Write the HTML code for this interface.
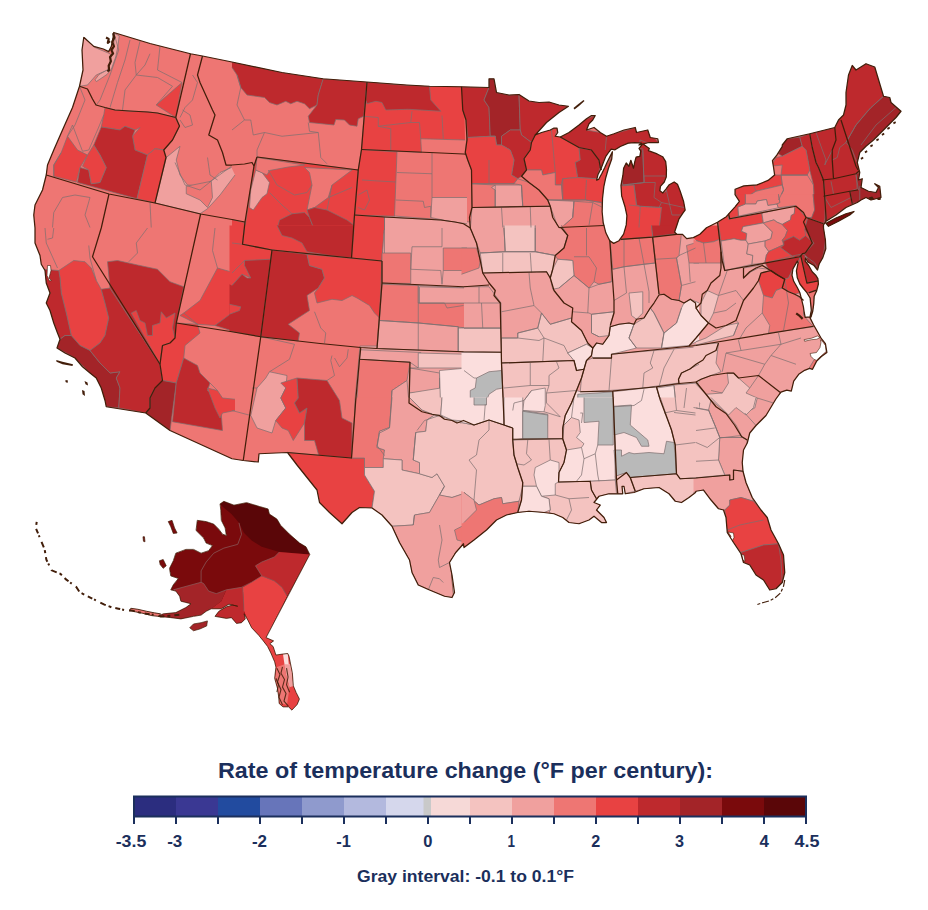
<!DOCTYPE html>
<html><head><meta charset="utf-8"><title>Rate of temperature change</title>
<style>html,body{margin:0;padding:0;background:#fff}body{width:928px;height:910px;overflow:hidden;position:relative;font-family:"Liberation Sans",sans-serif}svg{position:absolute;left:0;top:0}text{font-family:"Liberation Sans",sans-serif;font-weight:bold;fill:#1b2f5c}</style></head><body>
<svg width="928" height="910" viewBox="0 0 928 910">
<rect width="928" height="910" fill="#fff"/>
<defs><clipPath id="us"><path d="M113.75 32.5 L150 43.5 L190.5 53.75 L202.5 56 L232 62 L282 72.5 L323 78.75 L367 82 L407 85 L429.5 86.25 L461.5 86.75 L489 87.5 L489 78.75 L494 78.75 L496.5 92.5 L509 95 L519 94.5 L529 101 L539 102.5 L549 102 L559 105 L568.5 106.25 L559 112.5 L546.5 122.5 L535.25 135 L541.5 132.5 L550.25 130 L554 128 L557 128 L557.75 132.5 L555.25 136.25 L560.25 137 L569 132.5 L579 125 L586.5 118.75 L591.5 115.5 L595.25 115.5 L592.75 120 L589 123.75 L586.5 130 L594 127.5 L600.25 132.5 L606.5 136.25 L614 133.75 L624 130 L635.25 127.5 L636.5 132.5 L647.75 130 L650.25 137.5 L657.75 138.75 L658.5 142.5 L649 142.5 L644 143.75 L639 145 L641.41 143.18 L634.82 142.52 L628.23 143.18 L620.32 146.48 L615.05 149.77 L611.09 149.11 L609.11 151.75 L605.82 156.36 L603.18 162.96 L601.2 168.23 L597.91 174.82 L596.59 180.09 L598.57 179.43 L601.86 173.5 L604.76 167.57 L607.14 162.3 L609.77 157.02 L612.41 151.75 L611.75 159 L608.46 168.23 L605.82 177.46 L603.84 186.68 L602.52 198.55 L602.13 211.73 L603.18 222.28 L605.82 232.82 L609.77 240.73 L613.73 243.37 L619 240.73 L623.61 234.14 L626.25 224.91 L626.91 215.68 L624.93 206.46 L621.64 195.91 L620.98 185.37 L622.96 174.82 L623.61 168.23 L626.25 162.96 L628.89 166.25 L630.86 160.32 L633.5 168.23 L634.82 161.64 L636.14 157.02 L639.83 156.36 L640.75 151.09 L639.04 148.46 L642.73 143.84 L649.32 148.46 L648.35 150.66 L657.14 153.96 L662.64 156.7 L665.71 161.65 L666.48 169.34 L666.26 177.03 L664.29 181.98 L660.44 186.37 L659.89 190.77 L662.86 192.97 L665.93 189.12 L669.23 184.73 L674.18 181.98 L677.47 184.18 L680.22 191.32 L683.52 201.21 L685.16 210 L683.41 212.31 L679.01 218.9 L676.81 225.49 L674.62 232.09 L676.81 234.29 L682.31 234.29 L686.7 238.68 L693.3 237.58 L699.89 234.29 L706.48 227.69 L717.47 222.2 L726.26 216.7 L735.05 206.81 L739.45 201.32 L735.05 194.73 L735.05 189.23 L743.85 185.93 L757.03 184.84 L768.02 180.44 L774.62 174.95 L773.52 167.25 L772.42 160.66 L776.81 155.16 L782.31 146.37 L782.25 145 L787.25 138.75 L809.75 133.75 L834.75 127.5 L838.5 120 L843.5 115 L846 105 L846 92.5 L848.5 75 L852.25 65.5 L856 70 L866 63.75 L874.75 67 L883.5 96.25 L889.75 97.5 L891 102.5 L901 111.25 L896 117.5 L888.5 125 L881 132.5 L873.5 140 L866 146.25 L859.75 152.5 L857.25 162.5 L859.75 172.5 L858.5 180 L862.25 178.75 L861 187.5 L868.5 191.25 L876 192.5 L878.5 187.5 L874.75 183.75 L879.75 186.25 L881 197.5 L871 200 L866 197.5 L861 200 L857.25 202.5 L846 207.5 L836 215 L826 221.25 L823.5 225 L823.5 228 L825.4 240 L825.8 248.8 L822.8 257.6 L819.3 263.7 L817.5 270 L814 265.5 L807.8 262 L805.5 258 L805.2 261.1 L808.7 265.5 L812.2 271.7 L815.7 275.2 L817.9 278.7 L818.4 284 L816.6 291 L814.2 296.3 L813.8 303.3 L812.8 311 L811 317 L810 317 L811.3 310.3 L810.1 298 L806.9 292.7 L803.4 288.5 L799.9 284 L797.3 277.8 L796.4 270.8 L798.1 262.9 L797.3 261.1 L792.9 269 L792 275.2 L793.7 281.3 L797.3 287.5 L799.9 292.8 L801.7 299.8 L803.4 306.8 L804.3 313 L805.2 317.4 L809.6 316.9 L813.5 324.8 L817.5 331.8 L821.4 338.7 L825.4 343.6 L826.9 352.5 L821.4 356.5 L816.5 361.4 L812.5 369.3 L809.6 368.4 L804.6 370.3 L798.7 374.3 L793.7 381.2 L791.3 391.1 L786.8 390.1 L780.9 392.1 L775.9 399 L773.5 403 L766 415.5 L756 425.5 L749.75 433 L747.25 443 L743.5 450 L742.25 462.5 L743 471.25 L746 482.5 L752.25 497.5 L761 510 L767.25 517.5 L771 530 L778.5 543.75 L783.5 555 L784.75 572.5 L782.25 582.5 L776 588.75 L769.75 590 L763.5 580 L756 575 L749.75 565 L743.5 562.5 L741 553.75 L733.5 542.5 L727.25 532.5 L726 517.5 L723.5 510 L718.5 508.75 L711 500 L703.5 490 L696 491.25 L695.5 492.5 L689 497.5 L681.5 502.5 L675.25 501.25 L669 493.75 L659 487.5 L644 488.75 L634 492.5 L625.25 493.75 L624 486.25 L622 486.25 L622.75 493.75 L609 493.75 L599 496.25 L594 502.5 L600.25 505 L596.5 510 L604 517.5 L606.5 522.5 L601.5 522.5 L594 516.25 L589 520 L579 523.75 L569 522.5 L562.75 517.5 L554 513.75 L544 512.5 L529 511.25 L517.75 512.5 L506.5 515 L496.5 520 L486.5 530 L474 540 L464 547.5 L463.5 543.75 L455.75 552.5 L449.5 562.5 L452 575 L454.5 592.5 L452 597.5 L444.5 596.25 L429.5 590 L418.25 585 L412 572.5 L409.5 560 L399.5 542.5 L392 526.25 L382 515 L372 508 L359.5 507.5 L352 512.5 L342 523.75 L329.5 512.5 L319.5 502.5 L317 490 L307 477.5 L297 465 L287.5 452.5 L259 453.75 L258.25 462 L243.25 460.5 L232 458.75 L170 430.5 L145.75 413 L106.25 406.75 L105 400.5 L101.25 388 L96.25 378 L90 373 L82.5 366.75 L75 358 L65 353 L57 348 L60 339.25 L57.5 333 L53.75 323 L50 310.5 L46.25 303 L50 293 L46.25 283 L45 270.5 L41.25 264.25 L40 255.5 L35 243 L35 228 L33.75 215 L35 205 L42.5 190 L46.25 175 L47.5 165 L53.75 150 L62.5 130 L72.5 107.5 L79.5 86.25 L83 70 L82 50 L83.75 37.5 L84.07 37.58 L93.74 46.37 L103.41 49.01 L108.68 51.65 L111.32 46.37 L113.08 37.58 L113.69 33.01Z M826 223.25 L836 218 L846 213.75 L854 211.5 L849.75 215 L838.5 221.25 L828.5 226.25Z"/></clipPath></defs>
<g clip-path="url(#us)">
<rect x="0" y="0" width="928" height="720" fill="#EE7673"/>
<polygon fill="#F0A09E" points="382,215 470,222 560,226 605,224 610,240 680,232 720,220 730,212 800,204 832,225 832,330 790,400 760,480 700,500 600,530 450,600 400,560 355,460 355,400 360,346 377,346 382,283"/>
<path d="M382 215 L470 222 L560 226 L605 224 L610 240 L680 232 L720 220 L730 212 L800 204 L832 225 L832 330 L790 400 L760 480 L700 500 L600 530 L450 600 L400 560 L355 460 L355 400 L360 346 L377 346 L382 283 L382 215" fill="none" stroke="#7d7070" stroke-width="0.9" stroke-opacity="0.8" stroke-linejoin="round"/>
<polygon fill="#F0A09E" points="83.75,37.5 95,47.5 110,53.75 112.5,60 107.5,70 96.25,75 87.5,85 79.5,86.25 75,86.25 80,70 79.5,50"/>
<path d="M83.75 37.5 L95 47.5 L110 53.75 L112.5 60 L107.5 70 L96.25 75 L87.5 85 L79.5 86.25 L75 86.25 L80 70 L79.5 50 L83.75 37.5" fill="none" stroke="#7d7070" stroke-width="0.9" stroke-opacity="0.8" stroke-linejoin="round"/>
<polygon fill="#F0A09E" points="113.69,33.01 119.23,35.82 117.91,46.37 115.71,56.92 111.32,69.23 106.92,74.51 96.37,81.54 95.05,79.78 99.01,74.51 108.68,69.23 111.32,55.16 113.96,46.37"/>
<path d="M113.69 33.01 L119.23 35.82 L117.91 46.37 L115.71 56.92 L111.32 69.23 L106.92 74.51 L96.37 81.54 L95.05 79.78 L99.01 74.51 L108.68 69.23 L111.32 55.16 L113.96 46.37 L113.69 33.01" fill="none" stroke="#7d7070" stroke-width="0.9" stroke-opacity="0.8" stroke-linejoin="round"/>
<polygon fill="#E84242" points="182,82.5 175.75,117.5 156.25,105"/>
<path d="M182 82.5 L175.75 117.5 L156.25 105 L182 82.5" fill="none" stroke="#7d7070" stroke-width="0.9" stroke-opacity="0.8" stroke-linejoin="round"/>
<polygon fill="#E84242" points="105,107.5 115,110 130,111.25 147.5,111.75 157.5,113 175,117.5 179.5,126.25 172.5,140 163.75,150 155,148.75 147.5,155 135,150 132.5,136.25 140,127.5 135,130 125,126.25 120,130 101.25,127 103.75,115"/>
<path d="M105 107.5 L115 110 L130 111.25 L147.5 111.75 L157.5 113 L175 117.5 L179.5 126.25 L172.5 140 L163.75 150 L155 148.75 L147.5 155 L135 150 L132.5 136.25 L140 127.5 L135 130 L125 126.25 L120 130 L101.25 127 L103.75 115 L105 107.5" fill="none" stroke="#7d7070" stroke-width="0.9" stroke-opacity="0.8" stroke-linejoin="round"/>
<polygon fill="#BE292D" points="101.25,127 120,130 125,126.25 135,130 132.5,136.25 135,150 147.5,155 137,198.75 77.5,182.5 80,167.5 88.75,170 91.25,183.75 100,182.5 106.25,167.5 100,155 93.75,145"/>
<path d="M101.25 127 L120 130 L125 126.25 L135 130 L132.5 136.25 L135 150 L147.5 155 L137 198.75 L77.5 182.5 L80 167.5 L88.75 170 L91.25 183.75 L100 182.5 L106.25 167.5 L100 155 L93.75 145 L101.25 127" fill="none" stroke="#7d7070" stroke-width="0.9" stroke-opacity="0.8" stroke-linejoin="round"/>
<polygon fill="#E84242" points="67.5,136.25 77.5,150 87.5,155 80,167.5 76.25,182 53.75,176.25 53.75,165 61.25,152.5"/>
<path d="M67.5 136.25 L77.5 150 L87.5 155 L80 167.5 L76.25 182 L53.75 176.25 L53.75 165 L61.25 152.5 L67.5 136.25" fill="none" stroke="#7d7070" stroke-width="0.9" stroke-opacity="0.8" stroke-linejoin="round"/>
<polygon fill="#E84242" points="93.75,145 100,155 106.25,167.5 100,182.5 91.25,183.75 88.75,170 82.5,166.25 87.5,155"/>
<path d="M93.75 145 L100 155 L106.25 167.5 L100 182.5 L91.25 183.75 L88.75 170 L82.5 166.25 L87.5 155 L93.75 145" fill="none" stroke="#7d7070" stroke-width="0.9" stroke-opacity="0.8" stroke-linejoin="round"/>
<polygon fill="#E84242" points="147.5,155 155,148.75 163.75,150 166.25,157.5 155,203 137,198.75"/>
<path d="M147.5 155 L155 148.75 L163.75 150 L166.25 157.5 L155 203 L137 198.75 L147.5 155" fill="none" stroke="#7d7070" stroke-width="0.9" stroke-opacity="0.8" stroke-linejoin="round"/>
<polygon fill="#F0A09E" points="166.25,157.5 180,146.25 176.25,160 180,175 187.5,185 202.5,186.25 212.5,180 220,172.5 231.5,167.5 235,175 220,195 207.5,208.75 200,213.75 155,203"/>
<path d="M166.25 157.5 L180 146.25 L176.25 160 L180 175 L187.5 185 L202.5 186.25 L212.5 180 L220 172.5 L231.5 167.5 M235 175 L220 195 L207.5 208.75 L200 213.75 L155 203 L166.25 157.5" fill="none" stroke="#7d7070" stroke-width="0.9" stroke-opacity="0.8" stroke-linejoin="round"/>
<polygon fill="#BE292D" points="232,62 282,72.5 323.25,78.75 318.25,95 317,105 309.5,108.75 304.5,103.75 297,101.25 290.75,103.75 285.75,101.25 277,105 269.5,102.5 264.5,97.5 247,95 240.75,87.5 237,75 232,67.5"/>
<path d="M232 62 L282 72.5 L323.25 78.75 L318.25 95 L317 105 L309.5 108.75 L304.5 103.75 L297 101.25 L290.75 103.75 L285.75 101.25 L277 105 L269.5 102.5 L264.5 97.5 L247 95 L240.75 87.5 L237 75 L232 67.5" fill="none" stroke="#7d7070" stroke-width="0.9" stroke-opacity="0.8" stroke-linejoin="round"/>
<polygon fill="#BE292D" points="323.25,78.75 367,82 363.75,116.25 358.25,118.75 357,126.25 349.5,125 344.5,120 335.75,119.5 334,125 309.5,122.5 308.25,116.25 317,105 318.25,95"/>
<path d="M323.25 78.75 L367 82 L363.75 116.25 L358.25 118.75 L357 126.25 L349.5 125 L344.5 120 L335.75 119.5 L334 125 L309.5 122.5 L308.25 116.25 L317 105 L318.25 95 L323.25 78.75" fill="none" stroke="#7d7070" stroke-width="0.9" stroke-opacity="0.8" stroke-linejoin="round"/>
<polygon fill="#E84242" points="367,82 407,85 429.5,86.25 461.5,86.75 464.5,112.5 465,140 420.75,138.75 421.5,152.5 361.5,149.5"/>
<path d="M367 82 L407 85 L429.5 86.25 L461.5 86.75 M465 140 L420.75 138.75 L421.5 152.5 L361.5 149.5 L367 82" fill="none" stroke="#7d7070" stroke-width="0.9" stroke-opacity="0.8" stroke-linejoin="round"/>
<polygon fill="#BE292D" points="367,82 402,85 429.5,86.25 430.75,100 440.75,111.25 408.25,109.25 385.75,110 382,102.5 375.75,101.25 367,103.75 365.75,100"/>
<path d="M367 82 L402 85 L429.5 86.25 L430.75 100 L440.75 111.25 L408.25 109.25 L385.75 110 L382 102.5 L375.75 101.25 L367 103.75 L365.75 100 L367 82" fill="none" stroke="#7d7070" stroke-width="0.9" stroke-opacity="0.8" stroke-linejoin="round"/>
<polygon fill="#E84242" points="361.5,149.5 397,152 394.5,216.25 354.5,215 358.25,170"/>
<path d="M361.5 149.5 L397 152 L394.5 216.25 L354.5 215 L358.25 170 L361.5 149.5" fill="none" stroke="#7d7070" stroke-width="0.9" stroke-opacity="0.8" stroke-linejoin="round"/>
<polygon fill="#F0A09E" points="432,197.5 467,197.5 467,225 430.75,217.5"/>
<path d="M432 197.5 L467 197.5 M467 225 L430.75 217.5 L432 197.5" fill="none" stroke="#7d7070" stroke-width="0.9" stroke-opacity="0.8" stroke-linejoin="round"/>
<polygon fill="#F0A09E" points="384.5,217 440.75,220 467,223.75 467,230 384.5,230"/>
<path d="M384.5 217 L440.75 220 L467 223.75 M384.5 230 L384.5 217" fill="none" stroke="#7d7070" stroke-width="0.9" stroke-opacity="0.8" stroke-linejoin="round"/>
<polygon fill="#E84242" points="254,166.25 257,157 358.25,170 354.5,215 353.25,230 244.5,230"/>
<path d="M254 166.25 L257 157 L358.25 170 L354.5 215 L353.25 230 M244.5 230 L254 166.25" fill="none" stroke="#7d7070" stroke-width="0.9" stroke-opacity="0.8" stroke-linejoin="round"/>
<polygon fill="#F0A09E" points="255.75,170 262,172.5 269.5,182.5 267,193.75 262,197.5 253.25,210 249.5,207.5 250.75,190"/>
<path d="M255.75 170 L262 172.5 L269.5 182.5 L267 193.75 L262 197.5 L253.25 210 L249.5 207.5 L250.75 190 L255.75 170" fill="none" stroke="#7d7070" stroke-width="0.9" stroke-opacity="0.8" stroke-linejoin="round"/>
<polygon fill="#EE7673" points="304.5,167.5 352,170 332,185 328.25,197.5 314.5,207.5 307,210 312,185 309.5,172.5"/>
<path d="M304.5 167.5 L352 170 L332 185 L328.25 197.5 L314.5 207.5 L307 210 L312 185 L309.5 172.5 L304.5 167.5" fill="none" stroke="#7d7070" stroke-width="0.9" stroke-opacity="0.8" stroke-linejoin="round"/>
<polygon fill="#BE292D" points="279.5,220 292,213.75 304.5,212.5 309.5,217.5 314.5,230 277,230"/>
<path d="M279.5 220 L292 213.75 L304.5 212.5 L309.5 217.5 L314.5 230 M277 230 L279.5 220" fill="none" stroke="#7d7070" stroke-width="0.9" stroke-opacity="0.8" stroke-linejoin="round"/>
<polygon fill="#BE292D" points="307,210 314.5,207.5 327,210 337,215 347,220 353.75,225 353.25,230 314.5,230 309.5,217.5"/>
<path d="M307 210 L314.5 207.5 L327 210 L337 215 L347 220 L353.75 225 L353.25 230 M314.5 230 L309.5 217.5 L307 210" fill="none" stroke="#7d7070" stroke-width="0.9" stroke-opacity="0.8" stroke-linejoin="round"/>
<polygon fill="#E84242" points="232,219.5 244.5,222.5 244,230 232,230"/>
<path d="M232 219.5 L244.5 222.5 L244 230" fill="none" stroke="#7d7070" stroke-width="0.9" stroke-opacity="0.8" stroke-linejoin="round"/>
<polygon fill="#BE292D" points="461.5,86.75 489,87.5 484,100 489,107.5 490.25,136.25 467.75,137.5 466,120 462.75,110"/>
<path d="M461.5 86.75 L489 87.5 L484 100 L489 107.5 L490.25 136.25 L467.75 137.5 L466 120 L462.75 110" fill="none" stroke="#7d7070" stroke-width="0.9" stroke-opacity="0.8" stroke-linejoin="round"/>
<polygon fill="#A32428" points="489,78.75 494,78.75 496.5,92.5 509,95 519,94.5 520.25,130 510.25,130 501.5,136.25 501.5,145 496.5,145 495.25,136.25 490.25,136.25 489,107.5 484,100 489,87.5"/>
<path d="M489 78.75 L494 78.75 L496.5 92.5 L509 95 L519 94.5 L520.25 130 L510.25 130 L501.5 136.25 L501.5 145 L496.5 145 L495.25 136.25 L490.25 136.25 L489 107.5 L484 100 L489 87.5 L489 78.75" fill="none" stroke="#7d7070" stroke-width="0.9" stroke-opacity="0.8" stroke-linejoin="round"/>
<polygon fill="#BE292D" points="519,94.5 529,101.25 539,102.5 549,102 559,105 568.5,106.25 559,112.5 546.5,122.5 535.25,135 531.5,142.5 521.5,135 520.25,130"/>
<path d="M519 94.5 L529 101.25 L539 102.5 L549 102 L559 105 L568.5 106.25 L559 112.5 L546.5 122.5 L535.25 135 L531.5 142.5 L521.5 135 L520.25 130 L519 94.5" fill="none" stroke="#7d7070" stroke-width="0.9" stroke-opacity="0.8" stroke-linejoin="round"/>
<polygon fill="#BE292D" points="501.5,136.25 510.25,130 520.25,130 521.5,135 531.5,142.5 530.25,150 524,158.75 526.5,170 521.5,176.25 517.75,178.75 511.5,175 514,160 510.25,150 501.5,145"/>
<path d="M501.5 136.25 L510.25 130 L520.25 130 L521.5 135 L531.5 142.5 L530.25 150 L524 158.75 L526.5 170 L521.5 176.25 L517.75 178.75 L511.5 175 L514 160 L510.25 150 L501.5 145 L501.5 136.25" fill="none" stroke="#7d7070" stroke-width="0.9" stroke-opacity="0.8" stroke-linejoin="round"/>
<polygon fill="#E84242" points="467,137.5 490.25,136.25 495.25,136.25 496.5,145 501.5,145 510.25,150 514,160 511.5,175 517.75,178.75 514,183.75 489,183.75 471.5,183.75 471.5,170 467.75,160 465.25,152.5"/>
<path d="M467 137.5 L490.25 136.25 L495.25 136.25 L496.5 145 L501.5 145 L510.25 150 L514 160 L511.5 175 L517.75 178.75 L514 183.75 L489 183.75 L471.5 183.75 L471.5 170 L467.75 160 L465.25 152.5 L467 137.5" fill="none" stroke="#7d7070" stroke-width="0.9" stroke-opacity="0.8" stroke-linejoin="round"/>
<polygon fill="#EE7673" points="471.5,183.75 495.25,185 495.25,207.5 472,207.5"/>
<path d="M471.5 183.75 L495.25 185 L495.25 207.5 L472 207.5 L471.5 183.75" fill="none" stroke="#7d7070" stroke-width="0.9" stroke-opacity="0.8" stroke-linejoin="round"/>
<polygon fill="#F0A09E" points="491.5,187.5 495.25,185 521.5,185 522.75,206.25 495.25,207.5 495.25,190"/>
<path d="M491.5 187.5 L495.25 185 L521.5 185 L522.75 206.25 L495.25 207.5 L495.25 190 L491.5 187.5" fill="none" stroke="#7d7070" stroke-width="0.9" stroke-opacity="0.8" stroke-linejoin="round"/>
<polygon fill="#EE7673" points="514,183.75 517.75,178.75 529,182.5 539,190 547.75,200 550.25,206.25 522.75,206.25 521.5,185"/>
<path d="M514 183.75 L517.75 178.75 L529 182.5 L539 190 L547.75 200 L550.25 206.25 L522.75 206.25 L521.5 185 L514 183.75" fill="none" stroke="#7d7070" stroke-width="0.9" stroke-opacity="0.8" stroke-linejoin="round"/>
<polygon fill="#E84242" points="535.25,135 541.5,132.5 550.25,130 557.75,127.5 555.25,136.25 560.25,137 579,147.5 580.25,160 575.25,162.5 577.75,177.5 562.75,178.75 561.5,185 555.25,185 555.25,172.5 542.75,175 541.5,170 526.5,170 524,158.75 530.25,150 531.5,142.5"/>
<path d="M535.25 135 L541.5 132.5 L550.25 130 L557.75 127.5 L555.25 136.25 L560.25 137 L579 147.5 L580.25 160 L575.25 162.5 L577.75 177.5 L562.75 178.75 L561.5 185 L555.25 185 L555.25 172.5 L542.75 175 L541.5 170 L526.5 170 L524 158.75 L530.25 150 L531.5 142.5 L535.25 135" fill="none" stroke="#7d7070" stroke-width="0.9" stroke-opacity="0.8" stroke-linejoin="round"/>
<polygon fill="#BE292D" points="579,147.5 591.5,150 599,160 600.25,167.5 596.5,178.75 577.75,177.5 575.25,162.5 580.25,160"/>
<path d="M579 147.5 L591.5 150 L599 160 L600.25 167.5 L596.5 178.75 L577.75 177.5 L575.25 162.5 L580.25 160 L579 147.5" fill="none" stroke="#7d7070" stroke-width="0.9" stroke-opacity="0.8" stroke-linejoin="round"/>
<polygon fill="#EE7673" points="526.5,170 541.5,170 542.75,175 555.25,172.5 555.25,185 561.5,185 562.75,200 547.75,200 539,190 529,182.5 521.5,176.25"/>
<path d="M526.5 170 L541.5 170 L542.75 175 L555.25 172.5 L555.25 185 L561.5 185 L562.75 200 L547.75 200 L539 190 L529 182.5 L521.5 176.25 L526.5 170" fill="none" stroke="#7d7070" stroke-width="0.9" stroke-opacity="0.8" stroke-linejoin="round"/>
<polygon fill="#E84242" points="562.75,178.75 577.75,177.5 596.5,178.75 600.25,175 611.5,157.5 614,153.75 607.75,170 605.25,180 604,190 602.75,207.5 601.5,202.5 585.25,200 562.75,200 561.5,185"/>
<path d="M562.75 178.75 L577.75 177.5 L596.5 178.75 L600.25 175 L611.5 157.5 L614 153.75 L607.75 170 L605.25 180 L604 190 L602.75 207.5 L601.5 202.5 L585.25 200 L562.75 200 L561.5 185 L562.75 178.75" fill="none" stroke="#7d7070" stroke-width="0.9" stroke-opacity="0.8" stroke-linejoin="round"/>
<polygon fill="#F0A09E" points="550.25,206.25 547.75,200 574,201.25 572.75,217.5 559,230 552.75,217.5"/>
<path d="M550.25 206.25 L547.75 200 L574 201.25 L572.75 217.5 L559 230 L552.75 217.5 L550.25 206.25" fill="none" stroke="#7d7070" stroke-width="0.9" stroke-opacity="0.8" stroke-linejoin="round"/>
<polygon fill="#EE7673" points="574,201.25 592.75,202.5 602.75,207.5 603.25,230 559,230 572.75,217.5"/>
<path d="M574 201.25 L592.75 202.5 L602.75 207.5 L603.25 230 M559 230 L572.75 217.5 L574 201.25" fill="none" stroke="#7d7070" stroke-width="0.9" stroke-opacity="0.8" stroke-linejoin="round"/>
<polygon fill="#BE292D" points="560.25,137 569,132.5 579,125 586.5,118.75 595.25,115.5 586.5,130 600.25,132.5 614,133.75 635.25,127.5 647.75,130 658.5,142.5 639,145 629,143.75 614,152.5 604,166.25 600.25,167.5 599,160 591.5,150 579,147.5"/>
<path d="M560.25 137 L569 132.5 L579 125 L586.5 118.75 L595.25 115.5 L586.5 130 L600.25 132.5 L614 133.75 L635.25 127.5 L647.75 130 L658.5 142.5 L639 145 L629 143.75 L614 152.5 L604 166.25 L600.25 167.5 L599 160 L591.5 150 L579 147.5 L560.25 137" fill="none" stroke="#7d7070" stroke-width="0.9" stroke-opacity="0.8" stroke-linejoin="round"/>
<polygon fill="#BE292D" points="619,160 639,147.5 666.5,160 669,175 664,192.5 679,181.25 686.5,207.5 681.5,230 624,230 617.75,190"/>
<path d="M619 160 L639 147.5 L666.5 160 L669 175 L664 192.5 L679 181.25 L686.5 207.5 L681.5 230 M624 230 L617.75 190 L619 160" fill="none" stroke="#7d7070" stroke-width="0.9" stroke-opacity="0.8" stroke-linejoin="round"/>
<polygon fill="#A32428" points="619,165 636.5,150 642.75,150 644,182.5 622.75,185"/>
<path d="M619 165 L636.5 150 L642.75 150 L644 182.5 L622.75 185 L619 165" fill="none" stroke="#7d7070" stroke-width="0.9" stroke-opacity="0.8" stroke-linejoin="round"/>
<polygon fill="#E84242" points="617.75,186.25 634,185 636.5,205 640.25,206.25 661.5,207.5 659,230 624,230 626.5,220"/>
<path d="M617.75 186.25 L634 185 L636.5 205 L640.25 206.25 L661.5 207.5 L659 230 M624 230 L626.5 220 L617.75 186.25" fill="none" stroke="#7d7070" stroke-width="0.9" stroke-opacity="0.8" stroke-linejoin="round"/>
<polygon fill="#F0A09E" points="472,207.5 550.25,206.25 559,230 470.25,230"/>
<path d="M472 207.5 L550.25 206.25 L559 230 M470.25 230 L472 207.5" fill="none" stroke="#7d7070" stroke-width="0.9" stroke-opacity="0.8" stroke-linejoin="round"/>
<polygon fill="#BE292D" points="809.75,133.75 834.75,127.5 838.5,120 843.5,115 846,105 846,92.5 848.5,75 852.25,65.5 856,70 866,63.75 874.75,67 883.5,96.25 889.75,97.5 901,111.25 859.75,152.5 857.25,162.5 859.75,172.5 862.25,178.75 861,187.5 881,197.5 857.25,202.5 846,207.5 826,221.25 823.5,225 826,217.5 824.75,197.5 823.5,180 818.5,167.5 816,162.5 812.25,147.5"/>
<path d="M809.75 133.75 L834.75 127.5 L838.5 120 L843.5 115 L846 105 L846 92.5 L848.5 75 L852.25 65.5 L856 70 L866 63.75 L874.75 67 L883.5 96.25 L889.75 97.5 L901 111.25 L859.75 152.5 L857.25 162.5 L859.75 172.5 L862.25 178.75 L861 187.5 L881 197.5 L857.25 202.5 L846 207.5 L826 221.25 L823.5 225 L826 217.5 L824.75 197.5 L823.5 180 L818.5 167.5 L816 162.5 L812.25 147.5 L809.75 133.75" fill="none" stroke="#7d7070" stroke-width="0.9" stroke-opacity="0.8" stroke-linejoin="round"/>
<polygon fill="#A32428" points="883.5,96.25 889.75,97.5 891,102.5 901,111.25 896,117.5 881,132.5 866,146.25 859.75,152.5 857.25,162.5 856,160 852.25,150 846,142.5 856,125 871,107.5"/>
<path d="M883.5 96.25 L889.75 97.5 L891 102.5 L901 111.25 L896 117.5 L881 132.5 L866 146.25 L859.75 152.5 L857.25 162.5 L856 160 L852.25 150 L846 142.5 L856 125 L871 107.5 L883.5 96.25" fill="none" stroke="#7d7070" stroke-width="0.9" stroke-opacity="0.8" stroke-linejoin="round"/>
<polygon fill="#A32428" points="856,173.75 859.75,172.5 858.5,180 862.25,178.75 861,187.5 868.5,191.25 878.5,192.5 881,197.5 871,200 861,200 857.25,202.5 852.25,203.75 849.75,191.25 857.25,188.75"/>
<path d="M856 173.75 L859.75 172.5 L858.5 180 L862.25 178.75 L861 187.5 L868.5 191.25 L878.5 192.5 L881 197.5 L871 200 L861 200 L857.25 202.5 L852.25 203.75 L849.75 191.25 L857.25 188.75 L856 173.75" fill="none" stroke="#7d7070" stroke-width="0.9" stroke-opacity="0.8" stroke-linejoin="round"/>
<polygon fill="#EE7673" points="781,175 807.25,175 813.5,185 814.75,207.5 806,217.5 796,206.25 776,207.5 778.5,200 783.5,190 782.25,185"/>
<path d="M781 175 L807.25 175 L813.5 185 L814.75 207.5 L806 217.5 L796 206.25 L776 207.5 L778.5 200 L783.5 190 L782.25 185 L781 175" fill="none" stroke="#7d7070" stroke-width="0.9" stroke-opacity="0.8" stroke-linejoin="round"/>
<polygon fill="#A32428" points="787.25,138.75 799.75,137 802.25,146.25 782.25,156.25 778.5,153.75 782.25,145"/>
<path d="M787.25 138.75 L799.75 137 L802.25 146.25 L782.25 156.25 L778.5 153.75 L782.25 145 L787.25 138.75" fill="none" stroke="#7d7070" stroke-width="0.9" stroke-opacity="0.8" stroke-linejoin="round"/>
<polygon fill="#BE292D" points="799.75,137 809.75,133.75 812.25,147.5 816,162.5 818.5,167.5 823.5,180 824.75,197.5 826,221.25 823.5,225 813.5,217.5 806,217.5 814.75,207.5 813.5,185 809.75,170 806,150 802.25,146.25"/>
<path d="M799.75 137 L809.75 133.75 L812.25 147.5 L816 162.5 L818.5 167.5 L823.5 180 L824.75 197.5 L826 221.25 L823.5 225 L813.5 217.5 L806 217.5 L814.75 207.5 L813.5 185 L809.75 170 L806 150 L802.25 146.25 L799.75 137" fill="none" stroke="#7d7070" stroke-width="0.9" stroke-opacity="0.8" stroke-linejoin="round"/>
<polygon fill="#E84242" points="782.25,156.25 802.25,146.25 806,150 809.75,170 807.25,175 781,175 782.25,165 771,166.25 776,157.5"/>
<path d="M782.25 156.25 L802.25 146.25 L806 150 L809.75 170 L807.25 175 L781 175 L782.25 165 L771 166.25 L776 157.5 L782.25 156.25" fill="none" stroke="#7d7070" stroke-width="0.9" stroke-opacity="0.8" stroke-linejoin="round"/>
<polygon fill="#E84242" points="734.75,190 741,186.25 756,185 771,175 781,175 782.25,185 756,191.25 746,197.5 744.75,202.5 737.25,206.25 728.5,213.75 733.5,207.5 741,200 736,197.5"/>
<path d="M734.75 190 L741 186.25 L756 185 L771 175 L781 175 L782.25 185 L756 191.25 L746 197.5 L744.75 202.5 L737.25 206.25 L728.5 213.75 L733.5 207.5 L741 200 L736 197.5 L734.75 190" fill="none" stroke="#7d7070" stroke-width="0.9" stroke-opacity="0.8" stroke-linejoin="round"/>
<polygon fill="#EE7673" points="746,197.5 756,191.25 782.25,185 783.5,190 778.5,200 762.25,200 744.75,202.5"/>
<path d="M746 197.5 L756 191.25 L782.25 185 L783.5 190 L778.5 200 L762.25 200 L744.75 202.5 L746 197.5" fill="none" stroke="#7d7070" stroke-width="0.9" stroke-opacity="0.8" stroke-linejoin="round"/>
<polygon fill="#F0A09E" points="737.25,206.25 744.75,202.5 762.25,200 778.5,200 776,207.5 729.75,218.75 728.5,213.75"/>
<path d="M737.25 206.25 L744.75 202.5 L762.25 200 L778.5 200 L776 207.5 L729.75 218.75 L728.5 213.75 L737.25 206.25" fill="none" stroke="#7d7070" stroke-width="0.9" stroke-opacity="0.8" stroke-linejoin="round"/>
<polygon fill="#E84242" points="58.75,270.5 73.75,260.5 85,261.75 91.25,268 96.25,280.5 101.25,289.25 105,303 108.75,318 105,335.5 100,343 90,350.5 80,345.5 71.25,335.5 66.25,313 61.25,293 60,278"/>
<path d="M58.75 270.5 L73.75 260.5 L85 261.75 L91.25 268 L96.25 280.5 L101.25 289.25 L105 303 L108.75 318 L105 335.5 L100 343 L90 350.5 L80 345.5 L71.25 335.5 L66.25 313 L61.25 293 L60 278 L58.75 270.5" fill="none" stroke="#7d7070" stroke-width="0.9" stroke-opacity="0.8" stroke-linejoin="round"/>
<polygon fill="#BE292D" points="42.5,269.25 58.75,270.5 60,278 61.25,293 66.25,313 71.25,335.5 65,335.5 60,339.25 53.75,323 50,310.5 46.25,303 50,293 46.25,283"/>
<path d="M42.5 269.25 L58.75 270.5 L60 278 L61.25 293 L66.25 313 L71.25 335.5 L65 335.5 L60 339.25 L53.75 323 L50 310.5 L46.25 303 L50 293 L46.25 283 L42.5 269.25" fill="none" stroke="#7d7070" stroke-width="0.9" stroke-opacity="0.8" stroke-linejoin="round"/>
<polygon fill="#A32428" points="60,339.25 65,335.5 71.25,335.5 80,345.5 90,350.5 100,363 110,373 120,371.75 116.25,378 120,388 118.75,408 106.25,406.75 101.25,388 90,373 75,358 57,348"/>
<path d="M60 339.25 L65 335.5 L71.25 335.5 L80 345.5 L90 350.5 L100 363 L110 373 L120 371.75 L116.25 378 L120 388 L118.75 408 L106.25 406.75 L101.25 388 L90 373 L75 358 L57 348 L60 339.25" fill="none" stroke="#7d7070" stroke-width="0.9" stroke-opacity="0.8" stroke-linejoin="round"/>
<polygon fill="#BE292D" points="101.25,289.25 110,288 160,364.25 162.5,380.5 155,388 150,398 150,408 145.75,413 118.75,408 120,388 116.25,378 120,371.75 110,373 100,363 90,350.5 100,343 105,335.5 108.75,318 105,303"/>
<path d="M101.25 289.25 L110 288 L160 364.25 L162.5 380.5 L155 388 L150 398 L150 408 L145.75 413 L118.75 408 L120 388 L116.25 378 L120 371.75 L110 373 L100 363 L90 350.5 L100 343 L105 335.5 L108.75 318 L105 303 L101.25 289.25" fill="none" stroke="#7d7070" stroke-width="0.9" stroke-opacity="0.8" stroke-linejoin="round"/>
<polygon fill="#BE292D" points="107.5,261.75 117.5,260.5 137.5,265 157.5,269.25 170,281.75 183.75,286.75 176.25,323 175,338 170,343 162.5,345.5 160,364.25 110,288"/>
<path d="M107.5 261.75 L117.5 260.5 L137.5 265 L157.5 269.25 L170 281.75 L183.75 286.75 L176.25 323 L175 338 L170 343 L162.5 345.5 L160 364.25 L110 288 L107.5 261.75" fill="none" stroke="#7d7070" stroke-width="0.9" stroke-opacity="0.8" stroke-linejoin="round"/>
<polygon fill="#E84242" points="131.25,313 136.25,310.5 140,320.5 145,323 147.5,335.5 152.5,335.5 152.5,325.5 160,323 161.25,311.75 166.25,318 175,313 172.5,328 175,338 170,343 162.5,345.5 160,364.25"/>
<path d="M131.25 313 L136.25 310.5 L140 320.5 L145 323 L147.5 335.5 L152.5 335.5 L152.5 325.5 L160 323 L161.25 311.75 L166.25 318 L175 313 L172.5 328 L175 338 L170 343 L162.5 345.5 L160 364.25 L131.25 313" fill="none" stroke="#7d7070" stroke-width="0.9" stroke-opacity="0.8" stroke-linejoin="round"/>
<polygon fill="#E84242" points="217.5,268 235,273 235,313 215,325.5 197.5,324.25 180,315.5 183.75,313 200,300.5"/>
<path d="M217.5 268 L235 273 M235 313 L215 325.5 L197.5 324.25 L180 315.5 L183.75 313 L200 300.5 L217.5 268" fill="none" stroke="#7d7070" stroke-width="0.9" stroke-opacity="0.8" stroke-linejoin="round"/>
<polygon fill="#BE292D" points="235,310.5 215,325.5 235,331.75"/>
<path d="M235 310.5 L215 325.5 L235 331.75" fill="none" stroke="#7d7070" stroke-width="0.9" stroke-opacity="0.8" stroke-linejoin="round"/>
<polygon fill="#E84242" points="176.25,323 197.5,324.25 200,333 185,345.5 183.75,358 176.25,383 162.5,380.5 160,364.25 162.5,345.5 170,343 175,338"/>
<path d="M176.25 323 L197.5 324.25 L200 333 L185 345.5 L183.75 358 L176.25 383 L162.5 380.5 L160 364.25 L162.5 345.5 L170 343 L175 338 L176.25 323" fill="none" stroke="#7d7070" stroke-width="0.9" stroke-opacity="0.8" stroke-linejoin="round"/>
<polygon fill="#A32428" points="162.5,380.5 176.25,383 170,430.5 145.75,413 150,408 150,398 155,388"/>
<path d="M162.5 380.5 L176.25 383 L170 430.5 L145.75 413 L150 408 L150 398 L155 388 L162.5 380.5" fill="none" stroke="#7d7070" stroke-width="0.9" stroke-opacity="0.8" stroke-linejoin="round"/>
<polygon fill="#BE292D" points="183.75,358 197.5,365.5 200,373 210,383 207.5,390.5 220,398 222.5,430.5 172.5,421.75 176.25,383"/>
<path d="M183.75 358 L197.5 365.5 L200 373 L210 383 L207.5 390.5 L220 398 L222.5 430.5 L172.5 421.75 L176.25 383 L183.75 358" fill="none" stroke="#7d7070" stroke-width="0.9" stroke-opacity="0.8" stroke-linejoin="round"/>
<polygon fill="#E84242" points="207.5,388 217.5,390.5 222.5,398 235,399.25 235,410.5 222.5,413 220,418 215,408"/>
<path d="M207.5 388 L217.5 390.5 L222.5 398 L235 399.25 M235 410.5 L222.5 413 L220 418 L215 408 L207.5 388" fill="none" stroke="#7d7070" stroke-width="0.9" stroke-opacity="0.8" stroke-linejoin="round"/>
<polygon fill="#E84242" points="244.5,225.5 384.5,225.5 382,261 272,250 242.5,244.25"/>
<path d="M384.5 225.5 L382 261 L272 250 L242.5 244.25 L244.5 225.5" fill="none" stroke="#7d7070" stroke-width="0.9" stroke-opacity="0.8" stroke-linejoin="round"/>
<polygon fill="#BE292D" points="277,225.5 354.5,225.5 351.5,258 329.5,255.5 307,251.75 302,243 292,238 282,235.5"/>
<path d="M354.5 225.5 L351.5 258 L329.5 255.5 L307 251.75 L302 243 L292 238 L282 235.5 L277 225.5" fill="none" stroke="#7d7070" stroke-width="0.9" stroke-opacity="0.8" stroke-linejoin="round"/>
<polygon fill="#E84242" points="229.5,225.5 244.5,225.5 242.5,244.25 272,250 269.5,280.5 259.5,281.75 250.75,278 242,274.25 232,285.5 229.5,285.5"/>
<path d="M244.5 225.5 L242.5 244.25 L272 250 L269.5 280.5 L259.5 281.75 L250.75 278 L242 274.25 L232 285.5" fill="none" stroke="#7d7070" stroke-width="0.9" stroke-opacity="0.8" stroke-linejoin="round"/>
<polygon fill="#BE292D" points="244.5,260.5 270.75,259.25 268.25,290.5 260.75,336.75 229.5,331.25 229.5,284.25 232,285.5 242,274.25 247,278 250.75,278 244.5,265.5"/>
<path d="M244.5 260.5 L270.75 259.25 L268.25 290.5 L260.75 336.75 L229.5 331.25 M232 285.5 L242 274.25 L247 278 L250.75 278 L244.5 265.5 L244.5 260.5" fill="none" stroke="#7d7070" stroke-width="0.9" stroke-opacity="0.8" stroke-linejoin="round"/>
<polygon fill="#E84242" points="229.5,304.25 240.75,306.75 239.5,310.5 229.5,314.25"/>
<path d="M229.5 304.25 L240.75 306.75 L239.5 310.5 L229.5 314.25" fill="none" stroke="#7d7070" stroke-width="0.9" stroke-opacity="0.8" stroke-linejoin="round"/>
<polygon fill="#BE292D" points="272,250 307,254.25 309.5,265.5 322,269.25 324.5,278 318.25,288 307,295.5 309.5,310.5 288.25,324.25 299.5,333 298.25,341 260.75,336.75"/>
<path d="M272 250 L307 254.25 L309.5 265.5 L322 269.25 L324.5 278 L318.25 288 L307 295.5 L309.5 310.5 L288.25 324.25 L299.5 333 L298.25 341 L260.75 336.75 L272 250" fill="none" stroke="#7d7070" stroke-width="0.9" stroke-opacity="0.8" stroke-linejoin="round"/>
<polygon fill="#E84242" points="307,254.25 382,261 379.5,318 374.5,313 369.5,305.5 357,298 352,295.5 342,300.5 332,299.25 317,303 314.5,293 318.25,288 324.5,278 322,269.25 309.5,265.5"/>
<path d="M307 254.25 L382 261 L379.5 318 L374.5 313 L369.5 305.5 L357 298 L352 295.5 L342 300.5 L332 299.25 L317 303 L314.5 293 L318.25 288 L324.5 278 L322 269.25 L309.5 265.5 L307 254.25" fill="none" stroke="#7d7070" stroke-width="0.9" stroke-opacity="0.8" stroke-linejoin="round"/>
<polygon fill="#F0A09E" points="384.5,225.5 467,225.5 467,288 382,283.5 382,261"/>
<path d="M467 288 L382 283.5 L382 261 L384.5 225.5" fill="none" stroke="#7d7070" stroke-width="0.9" stroke-opacity="0.8" stroke-linejoin="round"/>
<polygon fill="#EE7673" points="382,253 410.75,253 410.75,283.5 382,283"/>
<path d="M382 253 L410.75 253 L410.75 283.5 L382 283 L382 253" fill="none" stroke="#7d7070" stroke-width="0.9" stroke-opacity="0.8" stroke-linejoin="round"/>
<polygon fill="#EE7673" points="443.25,248 467,248 467,270.5 443.25,270.5"/>
<path d="M443.25 248 L467 248 M467 270.5 L443.25 270.5 L443.25 248" fill="none" stroke="#7d7070" stroke-width="0.9" stroke-opacity="0.8" stroke-linejoin="round"/>
<polygon fill="#EE7673" points="382,284.25 418.25,285.5 418.25,303 467,303 467,328 418.25,323 379.5,320.5"/>
<path d="M382 284.25 L418.25 285.5 L418.25 303 L467 303 M467 328 L418.25 323 L379.5 320.5 L382 284.25" fill="none" stroke="#7d7070" stroke-width="0.9" stroke-opacity="0.8" stroke-linejoin="round"/>
<polygon fill="#F0A09E" points="419.5,286.75 467,288 467,303 419.5,303"/>
<path d="M419.5 286.75 L467 288 M467 303 L419.5 303 L419.5 286.75" fill="none" stroke="#7d7070" stroke-width="0.9" stroke-opacity="0.8" stroke-linejoin="round"/>
<polygon fill="#F0A09E" points="379.5,320.5 418.25,323 458.25,326.75 458.25,351.75 377,348.5"/>
<path d="M379.5 320.5 L418.25 323 L458.25 326.75 L458.25 351.75 L377 348.5 L379.5 320.5" fill="none" stroke="#7d7070" stroke-width="0.9" stroke-opacity="0.8" stroke-linejoin="round"/>
<polygon fill="#F4C3C0" points="458.25,328 467,328 467,352.25 458.25,351.75"/>
<path d="M458.25 328 L467 328 M467 352.25 L458.25 351.75 L458.25 328" fill="none" stroke="#7d7070" stroke-width="0.9" stroke-opacity="0.8" stroke-linejoin="round"/>
<polygon fill="#F0A09E" points="360.75,349.75 420.75,352.5 418.25,368 410,362.25 359.5,359.25"/>
<path d="M360.75 349.75 L420.75 352.5 L418.25 368 L410 362.25 L359.5 359.25 L360.75 349.75" fill="none" stroke="#7d7070" stroke-width="0.9" stroke-opacity="0.8" stroke-linejoin="round"/>
<polygon fill="#F4C3C0" points="418.25,353 467,354.25 467,368 418.25,368"/>
<path d="M418.25 353 L467 354.25 M467 368 L418.25 368 L418.25 353" fill="none" stroke="#7d7070" stroke-width="0.9" stroke-opacity="0.8" stroke-linejoin="round"/>
<polygon fill="#F0A09E" points="410,368 439.5,373 439.5,390.5 409.5,393"/>
<path d="M410 368 L439.5 373 L439.5 390.5 L409.5 393 L410 368" fill="none" stroke="#7d7070" stroke-width="0.9" stroke-opacity="0.8" stroke-linejoin="round"/>
<polygon fill="#F4C3C0" points="409.5,393 440.75,388 440.75,414.25 432,414.25 422,411.75 409,403"/>
<path d="M409.5 393 L440.75 388 L440.75 414.25 L432 414.25 L422 411.75 L409 403 L409.5 393" fill="none" stroke="#7d7070" stroke-width="0.9" stroke-opacity="0.8" stroke-linejoin="round"/>
<polygon fill="#FBDEDD" points="439.5,370.5 467,368 467,421.75 457,423 452,420.5 444.5,419.25 440.75,414.25"/>
<path d="M439.5 370.5 L467 368 M467 421.75 L457 423 L452 420.5 L444.5 419.25 L440.75 414.25 L439.5 370.5" fill="none" stroke="#7d7070" stroke-width="0.9" stroke-opacity="0.8" stroke-linejoin="round"/>
<polygon fill="#F0A09E" points="269.5,371.75 287,375.5 285.75,388 280.75,398 285.75,408 275.75,420.5 272,433 257,428 250.75,415.5 257,388 265.75,378"/>
<path d="M269.5 371.75 L287 375.5 L285.75 388 L280.75 398 L285.75 408 L275.75 420.5 L272 433 L257 428 L250.75 415.5 L257 388 L265.75 378 L269.5 371.75" fill="none" stroke="#7d7070" stroke-width="0.9" stroke-opacity="0.8" stroke-linejoin="round"/>
<polygon fill="#E84242" points="280.75,383 297,378 298.25,398 294.5,403 299.5,413 307,408 304.5,423 293.25,440.5 288.25,430.5 282,428 275.75,420.5 285.75,408 280.75,398 285.75,388"/>
<path d="M280.75 383 L297 378 L298.25 398 L294.5 403 L299.5 413 L307 408 L304.5 423 L293.25 440.5 L288.25 430.5 L282 428 L275.75 420.5 L285.75 408 L280.75 398 L285.75 388 L280.75 383" fill="none" stroke="#7d7070" stroke-width="0.9" stroke-opacity="0.8" stroke-linejoin="round"/>
<polygon fill="#BE292D" points="297,378 327,380.5 339.5,400.5 342,418 352,423 352,458 319.5,458 314.5,440.5 304.5,440.5 304.5,423 307,408 299.5,413 294.5,403 298.25,398"/>
<path d="M297 378 L327 380.5 L339.5 400.5 L342 418 L352 423 L352 458 M319.5 458 L314.5 440.5 L304.5 440.5 L304.5 423 L307 408 L299.5 413 L294.5 403 L298.25 398 L297 378" fill="none" stroke="#7d7070" stroke-width="0.9" stroke-opacity="0.8" stroke-linejoin="round"/>
<polygon fill="#EE7673" points="359.5,359.25 410,362.25 407,380.5 392,390.5 389.5,428 379.5,433 377,445.5 384.5,458 353.25,458"/>
<path d="M359.5 359.25 L410 362.25 L407 380.5 L392 390.5 L389.5 428 L379.5 433 L377 445.5 L384.5 458 M353.25 458 L359.5 359.25" fill="none" stroke="#7d7070" stroke-width="0.9" stroke-opacity="0.8" stroke-linejoin="round"/>
<polygon fill="#F0A09E" points="392,390.5 407,380.5 409,403 422,411.75 439.5,415.5 424.5,420.5 417,430.5 412,458 384.5,458 377,445.5 379.5,433 389.5,428"/>
<path d="M392 390.5 L407 380.5 L409 403 L422 411.75 L439.5 415.5 L424.5 420.5 L417 430.5 L412 458 M384.5 458 L377 445.5 L379.5 433 L389.5 428 L392 390.5" fill="none" stroke="#7d7070" stroke-width="0.9" stroke-opacity="0.8" stroke-linejoin="round"/>
<polygon fill="#F4C3C0" points="422,411.75 432,414.25 440.75,414.25 444.5,419.25 452,420.5 457,423 467,420.5 467,458 412,458 417,430.5 424.5,420.5 439.5,415.5"/>
<path d="M422 411.75 L432 414.25 L440.75 414.25 L444.5 419.25 L452 420.5 L457 423 L467 420.5 M412 458 L417 430.5 L424.5 420.5 L439.5 415.5 L422 411.75" fill="none" stroke="#7d7070" stroke-width="0.9" stroke-opacity="0.8" stroke-linejoin="round"/>
<polygon fill="#F0A09E" points="470.25,228 504,228 505.25,251.75 480.25,253 476.5,243"/>
<path d="M504 228 L505.25 251.75 L480.25 253 L476.5 243 L470.25 228" fill="none" stroke="#7d7070" stroke-width="0.9" stroke-opacity="0.8" stroke-linejoin="round"/>
<polygon fill="#F4C3C0" points="504,225.5 535.25,225.5 535.25,251.75 505.25,251.75"/>
<path d="M535.25 225.5 L535.25 251.75 L505.25 251.75 L504 225.5" fill="none" stroke="#7d7070" stroke-width="0.9" stroke-opacity="0.8" stroke-linejoin="round"/>
<polygon fill="#F0A09E" points="535.25,225.5 561.5,225.5 567.75,235.5 564,248 555.25,255.5 535.25,251.75"/>
<path d="M561.5 225.5 L567.75 235.5 L564 248 L555.25 255.5 L535.25 251.75 L535.25 225.5" fill="none" stroke="#7d7070" stroke-width="0.9" stroke-opacity="0.8" stroke-linejoin="round"/>
<polygon fill="#F4C3C0" points="480.25,253 505.25,251.75 535.25,251.75 555.25,255.5 552.75,269.25 550.25,278 546.5,271.75 482.75,273"/>
<path d="M480.25 253 L505.25 251.75 L535.25 251.75 L555.25 255.5 L552.75 269.25 L550.25 278 L546.5 271.75 L482.75 273 L480.25 253" fill="none" stroke="#7d7070" stroke-width="0.9" stroke-opacity="0.8" stroke-linejoin="round"/>
<polygon fill="#EE7673" points="461.5,248 476.5,248 480.25,260.5 479,268 461.5,274.25"/>
<path d="M461.5 248 L476.5 248 L480.25 260.5 L479 268 L461.5 274.25" fill="none" stroke="#7d7070" stroke-width="0.9" stroke-opacity="0.8" stroke-linejoin="round"/>
<polygon fill="#F4C3C0" points="461.5,328 501,328 501.5,352.25 461.5,352.25"/>
<path d="M461.5 328 L501 328 L501.5 352.25 L461.5 352.25" fill="none" stroke="#7d7070" stroke-width="0.9" stroke-opacity="0.8" stroke-linejoin="round"/>
<polygon fill="#F4C3C0" points="501.5,338 517.75,338 517.75,333 537.75,328 541.5,313 550.25,324.25 571.5,318 571.5,321.75 581.5,330.5 587.75,343 592.75,348 586.5,344.25 567.75,353 574,360.5 501.5,363"/>
<path d="M501.5 338 L517.75 338 L517.75 333 L537.75 328 L541.5 313 L550.25 324.25 L571.5 318 L571.5 321.75 L581.5 330.5 L587.75 343 L592.75 348 L586.5 344.25 L567.75 353 L574 360.5 L501.5 363 L501.5 338" fill="none" stroke="#7d7070" stroke-width="0.9" stroke-opacity="0.8" stroke-linejoin="round"/>
<polygon fill="#FBDEDD" points="567.75,353 586.5,344.25 592.75,348 591.5,355.5 586.5,360.5 584,369.25 576.5,370.5 574,360.5"/>
<path d="M567.75 353 L586.5 344.25 L592.75 348 L591.5 355.5 L586.5 360.5 L584 369.25 L576.5 370.5 L574 360.5 L567.75 353" fill="none" stroke="#7d7070" stroke-width="0.9" stroke-opacity="0.8" stroke-linejoin="round"/>
<polygon fill="#EE7673" points="561.5,225.5 606.5,225.5 610.25,241.75 611.5,281.75 599,284.25 594,281.75 589,288 574,275.5 572.75,260.5 557.75,259.25 555.25,255.5 564,248 567.75,235.5"/>
<path d="M606.5 225.5 L610.25 241.75 L611.5 281.75 L599 284.25 L594 281.75 L589 288 L574 275.5 L572.75 260.5 L557.75 259.25 L555.25 255.5 L564 248 L567.75 235.5 L561.5 225.5" fill="none" stroke="#7d7070" stroke-width="0.9" stroke-opacity="0.8" stroke-linejoin="round"/>
<polygon fill="#F4C3C0" points="557.75,259.25 572.75,260.5 574,275.5 559,288 552.75,289.25 550.25,278 552.75,269.25"/>
<path d="M557.75 259.25 L572.75 260.5 L574 275.5 L559 288 L552.75 289.25 L550.25 278 L552.75 269.25 L557.75 259.25" fill="none" stroke="#7d7070" stroke-width="0.9" stroke-opacity="0.8" stroke-linejoin="round"/>
<polygon fill="#F4C3C0" points="591.5,314.25 614,311.75 610.25,325.5 609,335.5 599,336.75 591.5,333"/>
<path d="M591.5 314.25 L614 311.75 L610.25 325.5 L609 335.5 L599 336.75 L591.5 333 L591.5 314.25" fill="none" stroke="#7d7070" stroke-width="0.9" stroke-opacity="0.8" stroke-linejoin="round"/>
<polygon fill="#EE7673" points="610.25,241.75 624,239.25 652.75,236.75 655.25,263 644,264.25 624,266.75 612.75,269.25"/>
<path d="M610.25 241.75 L624 239.25 L652.75 236.75 L655.25 263 L644 264.25 L624 266.75 L612.75 269.25 L610.25 241.75" fill="none" stroke="#7d7070" stroke-width="0.9" stroke-opacity="0.8" stroke-linejoin="round"/>
<polygon fill="#F4C3C0" points="629,293 642.75,291.75 642.75,313 636.5,319.25 631.5,315.5"/>
<path d="M629 293 L642.75 291.75 L642.75 313 L636.5 319.25 L631.5 315.5 L629 293" fill="none" stroke="#7d7070" stroke-width="0.9" stroke-opacity="0.8" stroke-linejoin="round"/>
<polygon fill="#EE7673" points="652.75,236.75 681.5,233 679,255.5 676.5,258 681.5,285.5 679,300.5 671.5,299.25 664,294.25 659,294.25 655.25,259.25"/>
<path d="M652.75 236.75 L681.5 233 L679 255.5 L676.5 258 L681.5 285.5 L679 300.5 L671.5 299.25 L664 294.25 L659 294.25 L655.25 259.25 L652.75 236.75" fill="none" stroke="#7d7070" stroke-width="0.9" stroke-opacity="0.8" stroke-linejoin="round"/>
<polygon fill="#EE7673" points="686.5,245.5 699,241.75 699,263 689,263"/>
<path d="M686.5 245.5 L699 241.75 M699 263 L689 263 L686.5 245.5" fill="none" stroke="#7d7070" stroke-width="0.9" stroke-opacity="0.8" stroke-linejoin="round"/>
<polygon fill="#E84242" points="620.25,239.25 652.75,236.75 651.5,225.5 621.5,225.5"/>
<path d="M620.25 239.25 L652.75 236.75 L651.5 225.5 M621.5 225.5 L620.25 239.25" fill="none" stroke="#7d7070" stroke-width="0.9" stroke-opacity="0.8" stroke-linejoin="round"/>
<polygon fill="#BE292D" points="651.5,225.5 681.5,225.5 681.5,233 652.75,236.75"/>
<path d="M681.5 225.5 L681.5 233 L652.75 236.75 L651.5 225.5" fill="none" stroke="#7d7070" stroke-width="0.9" stroke-opacity="0.8" stroke-linejoin="round"/>
<polygon fill="#FBDEDD" points="592.75,348 596.5,343 602.75,344.25 609,335.5 610.25,326.75 619,324.25 629,323 634,324.25 629,338 636.5,348 611.5,354.25 611.5,358 592.75,358 591.5,355.5"/>
<path d="M592.75 348 L596.5 343 L602.75 344.25 L609 335.5 L610.25 326.75 L619 324.25 L629 323 L634 324.25 L629 338 L636.5 348 L611.5 354.25 L611.5 358 L592.75 358 L591.5 355.5 L592.75 348" fill="none" stroke="#7d7070" stroke-width="0.9" stroke-opacity="0.8" stroke-linejoin="round"/>
<polygon fill="#F4C3C0" points="634,324.25 644,318 650.25,308 654,313 664,333 661.5,348 636.5,348 629,338"/>
<path d="M634 324.25 L644 318 L650.25 308 L654 313 L664 333 L661.5 348 L636.5 348 L629 338 L634 324.25" fill="none" stroke="#7d7070" stroke-width="0.9" stroke-opacity="0.8" stroke-linejoin="round"/>
<polygon fill="#FBDEDD" points="681.5,308 684,303 690.25,299.25 699,303 699,340.5 689,345.5 661.5,348 664,333 676.5,323"/>
<path d="M681.5 308 L684 303 L690.25 299.25 L699 303 M699 340.5 L689 345.5 L661.5 348 L664 333 L676.5 323 L681.5 308" fill="none" stroke="#7d7070" stroke-width="0.9" stroke-opacity="0.8" stroke-linejoin="round"/>
<polygon fill="#F4C3C0" points="592.75,358 611.5,358 611.5,354.25 654,350.5 699,346.75 699,365.5 681.5,373 678.5,383 642.75,388 609,390.5 580.25,391.75 581.5,378 584,369.25 586.5,360.5"/>
<path d="M592.75 358 L611.5 358 L611.5 354.25 L654 350.5 L699 346.75 M699 365.5 L681.5 373 L678.5 383 L642.75 388 L609 390.5 L580.25 391.75 L581.5 378 L584 369.25 L586.5 360.5 L592.75 358" fill="none" stroke="#7d7070" stroke-width="0.9" stroke-opacity="0.8" stroke-linejoin="round"/>
<polygon fill="#F4C3C0" points="501.5,363 574,360.5 576.5,370.5 584,369.25 581.5,378 576.5,390.5 571.5,403 565.25,415.5 562.75,428 562.75,438.75 512.75,439.25 512.75,428 504,425.5 504,420.5"/>
<path d="M501.5 363 L574 360.5 L576.5 370.5 L584 369.25 L581.5 378 L576.5 390.5 L571.5 403 L565.25 415.5 L562.75 428 L562.75 438.75 L512.75 439.25 L512.75 428 L504 425.5 L504 420.5 L501.5 363" fill="none" stroke="#7d7070" stroke-width="0.9" stroke-opacity="0.8" stroke-linejoin="round"/>
<polygon fill="#FBDEDD" points="531.5,390.5 545.25,388 545.25,405.5 544,411.75 522.75,410.5 524,400.5"/>
<path d="M531.5 390.5 L545.25 388 L545.25 405.5 L544 411.75 L522.75 410.5 L524 400.5 L531.5 390.5" fill="none" stroke="#7d7070" stroke-width="0.9" stroke-opacity="0.8" stroke-linejoin="round"/>
<polygon fill="#FBDEDD" points="505.25,414.25 512.75,410.5 522.75,410.5 522.75,439.25 512.75,439.25 512.75,428 504,425.5"/>
<path d="M505.25 414.25 L512.75 410.5 L522.75 410.5 L522.75 439.25 L512.75 439.25 L512.75 428 L504 425.5 L505.25 414.25" fill="none" stroke="#7d7070" stroke-width="0.9" stroke-opacity="0.8" stroke-linejoin="round"/>
<polygon fill="#B9B9B9" points="522.75,410.5 547.75,414.25 546.5,439.25 522.75,439.25"/>
<path d="M522.75 410.5 L547.75 414.25 L546.5 439.25 L522.75 439.25 L522.75 410.5" fill="none" stroke="#7d7070" stroke-width="0.9" stroke-opacity="0.8" stroke-linejoin="round"/>
<polygon fill="#FBDEDD" points="461.5,352.25 501.5,352.25 501.5,363 504,420.5 489,419.25 476.5,421.75 461.5,420.5"/>
<path d="M461.5 352.25 L501.5 352.25 L501.5 363 L504 420.5 L489 419.25 L476.5 421.75 L461.5 420.5" fill="none" stroke="#7d7070" stroke-width="0.9" stroke-opacity="0.8" stroke-linejoin="round"/>
<polygon fill="#B9B9B9" points="476.5,378 489,371.75 501.5,370.5 502.75,388 496.5,389.25 489,394.25 485.25,404.25 477.75,403 470.25,398 470.25,390.5 475.25,388"/>
<path d="M476.5 378 L489 371.75 L501.5 370.5 L502.75 388 L496.5 389.25 L489 394.25 L485.25 404.25 L477.75 403 L470.25 398 L470.25 390.5 L475.25 388 L476.5 378" fill="none" stroke="#7d7070" stroke-width="0.9" stroke-opacity="0.8" stroke-linejoin="round"/>
<polygon fill="#F4C3C0" points="461.5,421.75 476.5,421.75 489,419.25 504,425.5 512.75,428 512.75,439.25 562.75,438.75 566.5,458 461.5,458"/>
<path d="M461.5 421.75 L476.5 421.75 L489 419.25 L504 425.5 L512.75 428 L512.75 439.25 L562.75 438.75 L566.5 458" fill="none" stroke="#7d7070" stroke-width="0.9" stroke-opacity="0.8" stroke-linejoin="round"/>
<polygon fill="#FBDEDD" points="580.25,391.75 613.25,391.75 614,458 565.25,458 565.25,448 562.75,438.75 562.75,428 565.25,415.5 571.5,403 576.5,390.5"/>
<path d="M580.25 391.75 L613.25 391.75 L614 458 M565.25 458 L565.25 448 L562.75 438.75 L562.75 428 L565.25 415.5 L571.5 403 L576.5 390.5 L580.25 391.75" fill="none" stroke="#7d7070" stroke-width="0.9" stroke-opacity="0.8" stroke-linejoin="round"/>
<polygon fill="#B9B9B9" points="577.75,394.25 597.75,393 612.75,391.75 613.25,445.5 596.5,445.5 596.5,420.5 586.5,420.5 584,413 577.75,410.5"/>
<path d="M577.75 394.25 L597.75 393 L612.75 391.75 L613.25 445.5 L596.5 445.5 L596.5 420.5 L586.5 420.5 L584 413 L577.75 410.5 L577.75 394.25" fill="none" stroke="#7d7070" stroke-width="0.9" stroke-opacity="0.8" stroke-linejoin="round"/>
<polygon fill="#F4C3C0" points="562.75,428 571.5,428 581.5,423 584,445.5 576.5,448 565.25,448 562.75,438.75"/>
<path d="M562.75 428 L571.5 428 L581.5 423 L584 445.5 L576.5 448 L565.25 448 L562.75 438.75 L562.75 428" fill="none" stroke="#7d7070" stroke-width="0.9" stroke-opacity="0.8" stroke-linejoin="round"/>
<polygon fill="#FBDEDD" points="612.75,391.75 656.5,386.75 672.75,443 674,458 614,458"/>
<path d="M612.75 391.75 L656.5 386.75 L672.75 443 L674 458 M614 458 L612.75 391.75" fill="none" stroke="#7d7070" stroke-width="0.9" stroke-opacity="0.8" stroke-linejoin="round"/>
<polygon fill="#B9B9B9" points="614,406.75 631.5,404.25 634,418 639,428 647.75,435.5 649,444.25 639,445.5 629,433 619,431.75 614,435.5"/>
<path d="M614 406.75 L631.5 404.25 L634 418 L639 428 L647.75 435.5 L649 444.25 L639 445.5 L629 433 L619 431.75 L614 435.5 L614 406.75" fill="none" stroke="#7d7070" stroke-width="0.9" stroke-opacity="0.8" stroke-linejoin="round"/>
<polygon fill="#F4C3C0" points="656.5,386.75 699,382.5 699,458 674,458 672.75,443"/>
<path d="M656.5 386.75 L699 382.5 M674 458 L672.75 443 L656.5 386.75" fill="none" stroke="#7d7070" stroke-width="0.9" stroke-opacity="0.8" stroke-linejoin="round"/>
<polygon fill="#FBDEDD" points="656.5,388 674,385.5 676.5,410.5 664,413"/>
<path d="M656.5 388 L674 385.5 L676.5 410.5 L664 413 L656.5 388" fill="none" stroke="#7d7070" stroke-width="0.9" stroke-opacity="0.8" stroke-linejoin="round"/>
<polygon fill="#E84242" points="693.5,225.5 718.5,225.5 719.75,239.25 713.5,241.75 703.5,243 696,240.5 693.5,238"/>
<path d="M718.5 225.5 L719.75 239.25 L713.5 241.75 L703.5 243 L696 240.5" fill="none" stroke="#7d7070" stroke-width="0.9" stroke-opacity="0.8" stroke-linejoin="round"/>
<polygon fill="#EE7673" points="693.5,239.25 696,240.5 703.5,243 713.5,241.75 719.75,239.25 721,251.75 721,263 693.5,263"/>
<path d="M696 240.5 L703.5 243 L713.5 241.75 L719.75 239.25 L721 251.75 L721 263 L693.5 263" fill="none" stroke="#7d7070" stroke-width="0.9" stroke-opacity="0.8" stroke-linejoin="round"/>
<polygon fill="#E84242" points="718.5,225.5 742.25,225.5 748.5,235.5 743.5,239.25 721,240.5 719.75,239.25"/>
<path d="M742.25 225.5 L748.5 235.5 L743.5 239.25 L721 240.5 L719.75 239.25 L718.5 225.5" fill="none" stroke="#7d7070" stroke-width="0.9" stroke-opacity="0.8" stroke-linejoin="round"/>
<polygon fill="#F0A09E" points="721,240.5 743.5,239.25 748.5,235.5 742.25,225.5 771,225.5 766,238 764.75,260.5 752.25,265.5 724.75,270.5 721,251.75"/>
<path d="M721 240.5 L743.5 239.25 L748.5 235.5 L742.25 225.5 M771 225.5 L766 238 L764.75 260.5 L752.25 265.5 L724.75 270.5 L721 251.75 L721 240.5" fill="none" stroke="#7d7070" stroke-width="0.9" stroke-opacity="0.8" stroke-linejoin="round"/>
<polygon fill="#EE7673" points="771,225.5 788.5,225.5 782.25,240.5 781,248 767.25,253 764.75,260.5 766,238"/>
<path d="M788.5 225.5 L782.25 240.5 L781 248 L767.25 253 L764.75 260.5 L766 238 L771 225.5" fill="none" stroke="#7d7070" stroke-width="0.9" stroke-opacity="0.8" stroke-linejoin="round"/>
<polygon fill="#E84242" points="767.25,253 781,248 796,258 799.75,256.75 764.75,263 764.75,260.5"/>
<path d="M767.25 253 L781 248 L796 258 L799.75 256.75 L764.75 263 L764.75 260.5 L767.25 253" fill="none" stroke="#7d7070" stroke-width="0.9" stroke-opacity="0.8" stroke-linejoin="round"/>
<polygon fill="#BE292D" points="782.25,240.5 793.5,235.5 813.5,243 806,253 803.5,254.25 796,258 781,248"/>
<path d="M782.25 240.5 L793.5 235.5 L813.5 243 L806 253 L803.5 254.25 L796 258 L781 248 L782.25 240.5" fill="none" stroke="#7d7070" stroke-width="0.9" stroke-opacity="0.8" stroke-linejoin="round"/>
<polygon fill="#E84242" points="788.5,225.5 806,225.5 812.25,243 793.5,235.5 782.25,240.5"/>
<path d="M806 225.5 L812.25 243 L793.5 235.5 L782.25 240.5 L788.5 225.5" fill="none" stroke="#7d7070" stroke-width="0.9" stroke-opacity="0.8" stroke-linejoin="round"/>
<polygon fill="#A32428" points="806,225.5 823.5,225.5 826,240 826,249 823,258 819.5,264 817.5,270 814,265.5 807.8,262 805.2,253.2 812.25,243 806,228"/>
<path d="M806 225.5 L823.5 225.5 L826 240 L826 249 L823 258 L819.5 264 L817.5 270 L814 265.5 L807.8 262 L805.2 253.2 L812.25 243 L806 228 L806 225.5" fill="none" stroke="#7d7070" stroke-width="0.9" stroke-opacity="0.8" stroke-linejoin="round"/>
<polygon fill="#BE292D" points="765,262.75 799.75,256.75 800.8,255.8 798.1,262.9 797.3,261.1 792.9,269 788.5,278 784.75,279.25 776,274.25 768.5,269.25"/>
<path d="M765 262.75 L799.75 256.75 L800.8 255.8 L798.1 262.9 L797.3 261.1 L792.9 269 L788.5 278 L784.75 279.25 L776 274.25 L768.5 269.25 L765 262.75" fill="none" stroke="#7d7070" stroke-width="0.9" stroke-opacity="0.8" stroke-linejoin="round"/>
<polygon fill="#BE292D" points="800.8,255.8 802.5,253.6 805.2,253.2 805.2,261.1 808.7,265.5 812.2,271.7 815.7,275.2 817.9,278.7 818.4,281 806.9,283.1"/>
<path d="M800.8 255.8 L802.5 253.6 L805.2 253.2 L805.2 261.1 L808.7 265.5 L812.2 271.7 L815.7 275.2 L817.9 278.7 L818.4 281 L806.9 283.1 L800.8 255.8" fill="none" stroke="#7d7070" stroke-width="0.9" stroke-opacity="0.8" stroke-linejoin="round"/>
<polygon fill="#E84242" points="798.1,262.9 800.8,255.8 806.9,283.1 818.4,280.9 818.4,284 816.6,291 808.7,292.8 805.2,296.3 803.4,289.3 799.9,284 797.3,277.8 796.4,270.8"/>
<path d="M798.1 262.9 L800.8 255.8 L806.9 283.1 L818.4 280.9 L818.4 284 L816.6 291 L808.7 292.8 L805.2 296.3 L803.4 289.3 L799.9 284 L797.3 277.8 L796.4 270.8 L798.1 262.9" fill="none" stroke="#7d7070" stroke-width="0.9" stroke-opacity="0.8" stroke-linejoin="round"/>
<polygon fill="#EE7673" points="806.9,292.7 816.6,290.1 814.2,296.3 813.8,303.3 812.8,311 811,317 810,317 811.3,310.3 810.1,298"/>
<path d="M806.9 292.7 L816.6 290.1 L814.2 296.3 L813.8 303.3 L812.8 311 L811 317 L810 317 L811.3 310.3 L810.1 298 L806.9 292.7" fill="none" stroke="#7d7070" stroke-width="0.9" stroke-opacity="0.8" stroke-linejoin="round"/>
<polygon fill="#E84242" points="784.75,279.25 788.5,278 792.9,269 792,275.2 793.7,281.3 797.3,287.5 799.9,292.8 794.75,294.25 788.5,291.75 782.25,288"/>
<path d="M784.75 279.25 L788.5 278 L792.9 269 L792 275.2 L793.7 281.3 L797.3 287.5 L799.9 292.8 L794.75 294.25 L788.5 291.75 L782.25 288 L784.75 279.25" fill="none" stroke="#7d7070" stroke-width="0.9" stroke-opacity="0.8" stroke-linejoin="round"/>
<polygon fill="#F0A09E" points="743.5,268 762.25,264.75 768.5,269.25 758.5,268 751,271.75 743.5,278"/>
<path d="M743.5 268 L762.25 264.75 L768.5 269.25 L758.5 268 L751 271.75 L743.5 278 L743.5 268" fill="none" stroke="#7d7070" stroke-width="0.9" stroke-opacity="0.8" stroke-linejoin="round"/>
<polygon fill="#E84242" points="758.5,280.5 761,273 771,270.5 784.75,279.25 782.25,288 776,290.5 772.25,298 763.5,295.5"/>
<path d="M758.5 280.5 L761 273 L771 270.5 L784.75 279.25 L782.25 288 L776 290.5 L772.25 298 L763.5 295.5 L758.5 280.5" fill="none" stroke="#7d7070" stroke-width="0.9" stroke-opacity="0.8" stroke-linejoin="round"/>
<polygon fill="#EE7673" points="763.5,295.5 772.25,298 776,290.5 782.25,288 794.75,294.25 803.5,300.5 803.5,315.5 813.5,326.75 768.5,333 769.75,325.5 762.25,313"/>
<path d="M763.5 295.5 L772.25 298 L776 290.5 L782.25 288 L794.75 294.25 L803.5 300.5 L803.5 315.5 L813.5 326.75 L768.5 333 L769.75 325.5 L762.25 313 L763.5 295.5" fill="none" stroke="#7d7070" stroke-width="0.9" stroke-opacity="0.8" stroke-linejoin="round"/>
<polygon fill="#F4C3C0" points="706,338 726,325.5 738.5,323 733.5,335.5 696,345 696,341.75"/>
<path d="M706 338 L726 325.5 L738.5 323 L733.5 335.5 L696 345 M696 341.75 L706 338" fill="none" stroke="#7d7070" stroke-width="0.9" stroke-opacity="0.8" stroke-linejoin="round"/>
<polygon fill="#F4C3C0" points="701,303 707.25,290.5 718.5,295.5 713.5,313 708.5,323 701,315.5"/>
<path d="M701 303 L707.25 290.5 L718.5 295.5 L713.5 313 L708.5 323 L701 315.5 L701 303" fill="none" stroke="#7d7070" stroke-width="0.9" stroke-opacity="0.8" stroke-linejoin="round"/>
<polygon fill="#FBDEDD" points="693.5,305.5 696,308 701,315.5 708.5,323 696,338 693.5,340.5"/>
<path d="M696 308 L701 315.5 L708.5 323 L696 338" fill="none" stroke="#7d7070" stroke-width="0.9" stroke-opacity="0.8" stroke-linejoin="round"/>
<polygon fill="#F4C3C0" points="693.5,345 718.5,343 716,363 721,371.75 711,375.5 701,379.25 696,384.25 693.5,384.25"/>
<path d="M693.5 345 L718.5 343 L716 363 L721 371.75 L711 375.5 L701 379.25 L696 384.25" fill="none" stroke="#7d7070" stroke-width="0.9" stroke-opacity="0.8" stroke-linejoin="round"/>
<polygon fill="#F4C3C0" points="727.25,373 733.5,373 738.5,378 749.75,388 746,393 757.25,398 754.75,408 744.75,413 733.5,403 726,415.5 716,406.75 706,394.25 722.25,393 728.5,383"/>
<path d="M727.25 373 L733.5 373 L738.5 378 L749.75 388 L746 393 L757.25 398 L754.75 408 L744.75 413 L733.5 403 L726 415.5 L716 406.75 L706 394.25 L722.25 393 L728.5 383 L727.25 373" fill="none" stroke="#7d7070" stroke-width="0.9" stroke-opacity="0.8" stroke-linejoin="round"/>
<polygon fill="#F4C3C0" points="693.5,383 696,384.25 706,394.25 716,406.75 708.5,410.5 714.75,428 719.75,438 721,458 693.5,458"/>
<path d="M696 384.25 L706 394.25 L716 406.75 L708.5 410.5 L714.75 428 L719.75 438 L721 458" fill="none" stroke="#7d7070" stroke-width="0.9" stroke-opacity="0.8" stroke-linejoin="round"/>
<polygon fill="#FBDEDD" points="693.5,399.25 699.75,403 698.5,410.5 693.5,410.5"/>
<path d="M693.5 399.25 L699.75 403 L698.5 410.5 L693.5 410.5" fill="none" stroke="#7d7070" stroke-width="0.9" stroke-opacity="0.8" stroke-linejoin="round"/>
<polygon fill="#E84242" points="287.5,452.5 351.5,458 364.5,458 364.5,475 374.5,491.25 372,508 359.5,507.5 352,512.5 342,523.75 329.5,512.5 319.5,502.5 317,490 307,477.5 297,465"/>
<path d="M287.5 452.5 L351.5 458 L364.5 458 L364.5 475 L374.5 491.25 L372 508 L359.5 507.5 L352 512.5 L342 523.75 L329.5 512.5 L319.5 502.5 L317 490 L307 477.5 L297 465 L287.5 452.5" fill="none" stroke="#7d7070" stroke-width="0.9" stroke-opacity="0.8" stroke-linejoin="round"/>
<polygon fill="#EE7673" points="355.75,397.5 392,397.5 389.5,427.5 379.5,431.25 377,447.5 384.5,450 383.25,467.5 364.5,467.5 364.5,458 351.5,458"/>
<path d="M392 397.5 L389.5 427.5 L379.5 431.25 L377 447.5 L384.5 450 L383.25 467.5 L364.5 467.5 L364.5 458 L351.5 458 L355.75 397.5" fill="none" stroke="#7d7070" stroke-width="0.9" stroke-opacity="0.8" stroke-linejoin="round"/>
<polygon fill="#F0A09E" points="392,397.5 409.5,397.5 422,410 434.5,415 427,420 425.75,431.25 415.75,432.5 413.25,460 419.5,462.5 419.5,473.75 402,470 402,460 383.25,458.75 384.5,450 377,447.5 379.5,431.25 389.5,427.5"/>
<path d="M409.5 397.5 L422 410 L434.5 415 L427 420 L425.75 431.25 L415.75 432.5 L413.25 460 L419.5 462.5 L419.5 473.75 L402 470 L402 460 L383.25 458.75 L384.5 450 L377 447.5 L379.5 431.25 L389.5 427.5 L392 397.5" fill="none" stroke="#7d7070" stroke-width="0.9" stroke-opacity="0.8" stroke-linejoin="round"/>
<polygon fill="#F4C3C0" points="364.5,467.5 383.25,467.5 383.25,458.75 402,460 402,470 419.5,473.75 432,477.5 437,473.75 444.5,486.25 439.5,495 429.5,512.5 414.5,515 413.25,525 392,526.25 382,515 372,508 374.5,491.25 364.5,475"/>
<path d="M364.5 467.5 L383.25 467.5 L383.25 458.75 L402 460 L402 470 L419.5 473.75 L432 477.5 L437 473.75 L444.5 486.25 L439.5 495 L429.5 512.5 L414.5 515 L413.25 525 L392 526.25 L382 515 L372 508 L374.5 491.25 L364.5 475 L364.5 467.5" fill="none" stroke="#7d7070" stroke-width="0.9" stroke-opacity="0.8" stroke-linejoin="round"/>
<polygon fill="#F4C3C0" points="415.75,432.5 425.75,431.25 427,420 434.5,415 444.5,417.5 467,425 467,492.5 452,497.5 444.5,496.25 439.5,495 444.5,486.25 437,473.75 432,477.5 419.5,473.75 419.5,462.5 413.25,460"/>
<path d="M415.75 432.5 L425.75 431.25 L427 420 L434.5 415 L444.5 417.5 L467 425 M467 492.5 L452 497.5 L444.5 496.25 L439.5 495 L444.5 486.25 L437 473.75 L432 477.5 L419.5 473.75 L419.5 462.5 L413.25 460 L415.75 432.5" fill="none" stroke="#7d7070" stroke-width="0.9" stroke-opacity="0.8" stroke-linejoin="round"/>
<polygon fill="#F0A09E" points="392,526.25 413.25,525 414.5,515 429.5,512.5 439.5,495 452,497.5 467,492.5 467,543.75 455.75,552.5 449.5,562.5 452,575 454.5,592.5 452,597.5 444.5,596.25 429.5,590 418.25,585 412,572.5 409.5,560 399.5,542.5"/>
<path d="M392 526.25 L413.25 525 L414.5 515 L429.5 512.5 L439.5 495 L452 497.5 L467 492.5 M467 543.75 L455.75 552.5 L449.5 562.5 L452 575 L454.5 592.5 L452 597.5 L444.5 596.25 L429.5 590 L418.25 585 L412 572.5 L409.5 560 L399.5 542.5 L392 526.25" fill="none" stroke="#7d7070" stroke-width="0.9" stroke-opacity="0.8" stroke-linejoin="round"/>
<polygon fill="#EE7673" points="454.5,530 467,523.75 467,542.5 457,540"/>
<path d="M454.5 530 L467 523.75 M467 542.5 L457 540 L454.5 530" fill="none" stroke="#7d7070" stroke-width="0.9" stroke-opacity="0.8" stroke-linejoin="round"/>
<polygon fill="#F4C3C0" points="409.5,397.5 442,397.5 440.75,415 434.5,415 422,410"/>
<path d="M442 397.5 L440.75 415 L434.5 415 L422 410 L409.5 397.5" fill="none" stroke="#7d7070" stroke-width="0.9" stroke-opacity="0.8" stroke-linejoin="round"/>
<polygon fill="#FBDEDD" points="442,397.5 467,397.5 467,421.25 452,420 440.75,415"/>
<path d="M467 421.25 L452 420 L440.75 415 L442 397.5" fill="none" stroke="#7d7070" stroke-width="0.9" stroke-opacity="0.8" stroke-linejoin="round"/>
<polygon fill="#F4C3C0" points="461.5,422.5 474,425 489,420 504,425 512.75,428 512.75,440 514,455 517.75,467.5 522.75,482.5 522.75,486.25 519,501.25 502.75,503.75 501.5,497.5 494,498.75 479,505 464,492.5 461.5,491.25"/>
<path d="M461.5 422.5 L474 425 L489 420 L504 425 L512.75 428 L512.75 440 L514 455 L517.75 467.5 L522.75 482.5 L522.75 486.25 L519 501.25 L502.75 503.75 L501.5 497.5 L494 498.75 L479 505 L464 492.5" fill="none" stroke="#7d7070" stroke-width="0.9" stroke-opacity="0.8" stroke-linejoin="round"/>
<polygon fill="#EE7673" points="461.5,491.25 464,492.5 479,505 494,498.75 501.5,497.5 502.75,503.75 519,501.25 517.75,512.5 506.5,515 496.5,520 486.5,530 474,540 464,547.5 461.5,550"/>
<path d="M464 492.5 L479 505 L494 498.75 L501.5 497.5 L502.75 503.75 L519 501.25 L517.75 512.5 L506.5 515 L496.5 520 L486.5 530 L474 540 L464 547.5" fill="none" stroke="#7d7070" stroke-width="0.9" stroke-opacity="0.8" stroke-linejoin="round"/>
<polygon fill="#F0A09E" points="461.5,491.25 464,492.5 474,500 476.5,510 464,522.5 461.5,523.75"/>
<path d="M464 492.5 L474 500 L476.5 510 L464 522.5" fill="none" stroke="#7d7070" stroke-width="0.9" stroke-opacity="0.8" stroke-linejoin="round"/>
<polygon fill="#F4C3C0" points="512.75,440 562.75,438.75 566.5,450 564,462.5 559,472.5 558.5,482 590.25,481.25 591.5,490 596.5,498.75 600.25,505 604,517.5 606.5,522.5 569,523.75 562.75,517.5 549,512.5 550.25,510 549,498.75 541.5,496.25 536.5,486.25 522.75,486.25 522.75,482.5 517.75,467.5 514,455"/>
<path d="M512.75 440 L562.75 438.75 L566.5 450 L564 462.5 L559 472.5 L558.5 482 L590.25 481.25 L591.5 490 L596.5 498.75 L600.25 505 L604 517.5 L606.5 522.5 L569 523.75 L562.75 517.5 L549 512.5 L550.25 510 L549 498.75 L541.5 496.25 L536.5 486.25 L522.75 486.25 L522.75 482.5 L517.75 467.5 L514 455 L512.75 440" fill="none" stroke="#7d7070" stroke-width="0.9" stroke-opacity="0.8" stroke-linejoin="round"/>
<polygon fill="#FBDEDD" points="535.25,467.5 550.25,460 559,462.5 559,472.5 558.5,482 555.25,483.75 555.25,495 541.5,496.25 536.5,486.25 534,475"/>
<path d="M535.25 467.5 L550.25 460 L559 462.5 L559 472.5 L558.5 482 L555.25 483.75 L555.25 495 L541.5 496.25 L536.5 486.25 L534 475 L535.25 467.5" fill="none" stroke="#7d7070" stroke-width="0.9" stroke-opacity="0.8" stroke-linejoin="round"/>
<polygon fill="#FBDEDD" points="522.75,486.25 536.5,486.25 541.5,496.25 549,498.75 550.25,510 544,512.5 529,511.25 517.75,512.5 521.5,500"/>
<path d="M522.75 486.25 L536.5 486.25 L541.5 496.25 L549 498.75 L550.25 510 L544 512.5 L529 511.25 L517.75 512.5 L521.5 500 L522.75 486.25" fill="none" stroke="#7d7070" stroke-width="0.9" stroke-opacity="0.8" stroke-linejoin="round"/>
<polygon fill="#FBDEDD" points="562.75,438.75 564,425 571.5,417.5 574,397.5 614,397.5 615.25,480 590.25,481.25 558.5,482 559,472.5 564,462.5 566.5,450"/>
<path d="M562.75 438.75 L564 425 L571.5 417.5 L574 397.5 M614 397.5 L615.25 480 L590.25 481.25 L558.5 482 L559 472.5 L564 462.5 L566.5 450 L562.75 438.75" fill="none" stroke="#7d7070" stroke-width="0.9" stroke-opacity="0.8" stroke-linejoin="round"/>
<polygon fill="#F4C3C0" points="562.75,438.75 564,425 571.5,417.5 579,420 580.25,432.5 576.5,437.5 584,443.75 581.5,447.5 566.5,450"/>
<path d="M562.75 438.75 L564 425 L571.5 417.5 L579 420 L580.25 432.5 L576.5 437.5 L584 443.75 L581.5 447.5 L566.5 450 L562.75 438.75" fill="none" stroke="#7d7070" stroke-width="0.9" stroke-opacity="0.8" stroke-linejoin="round"/>
<polygon fill="#B9B9B9" points="577.75,397.5 613.25,397.5 613.25,445 597.75,445 599,421.25 584,422.5 584,397.5"/>
<path d="M613.25 397.5 L613.25 445 L597.75 445 L599 421.25 L584 422.5 L584 397.5" fill="none" stroke="#7d7070" stroke-width="0.9" stroke-opacity="0.8" stroke-linejoin="round"/>
<polygon fill="#F4C3C0" points="590.25,481.25 615.25,480 616.5,493.75 609,493.75 599,496.25 596.5,498.75 591.5,490"/>
<path d="M590.25 481.25 L615.25 480 L616.5 493.75 L609 493.75 L599 496.25 L596.5 498.75 L591.5 490 L590.25 481.25" fill="none" stroke="#7d7070" stroke-width="0.9" stroke-opacity="0.8" stroke-linejoin="round"/>
<polygon fill="#FBDEDD" points="613.25,397.5 660.25,397.5 671.5,430 675.25,445 676.5,473.75 630.25,477.5 626.5,472.5 616.5,476.25"/>
<path d="M660.25 397.5 L671.5 430 L675.25 445 L676.5 473.75 L630.25 477.5 L626.5 472.5 L616.5 476.25 L613.25 397.5" fill="none" stroke="#7d7070" stroke-width="0.9" stroke-opacity="0.8" stroke-linejoin="round"/>
<polygon fill="#B9B9B9" points="614,406.25 631.5,405 630.25,425 639,432.5 647.75,440 649,446.25 641.5,446.25 636.5,437.5 624,432.5 614,435"/>
<path d="M614 406.25 L631.5 405 L630.25 425 L639 432.5 L647.75 440 L649 446.25 L641.5 446.25 L636.5 437.5 L624 432.5 L614 435 L614 406.25" fill="none" stroke="#7d7070" stroke-width="0.9" stroke-opacity="0.8" stroke-linejoin="round"/>
<polygon fill="#B9B9B9" points="614,450 621.5,450 621.5,456.25 629,452.5 634,453.75 649,452.5 664,453.75 666.5,441.25 674,442.5 676.5,473.75 630.25,477.5 626.5,472.5 616.5,476.25"/>
<path d="M614 450 L621.5 450 L621.5 456.25 L629 452.5 L634 453.75 L649 452.5 L664 453.75 L666.5 441.25 L674 442.5 L676.5 473.75 L630.25 477.5 L626.5 472.5 L616.5 476.25 L614 450" fill="none" stroke="#7d7070" stroke-width="0.9" stroke-opacity="0.8" stroke-linejoin="round"/>
<polygon fill="#F4C3C0" points="615.25,476.25 626.5,472.5 630.25,477.5 635.25,491.25 624,493.75 617.75,493.75"/>
<path d="M615.25 476.25 L626.5 472.5 L630.25 477.5 L635.25 491.25 L624 493.75 L617.75 493.75 L615.25 476.25" fill="none" stroke="#7d7070" stroke-width="0.9" stroke-opacity="0.8" stroke-linejoin="round"/>
<polygon fill="#F4C3C0" points="630.25,477.5 676.5,473.75 680.25,478.75 699,477.5 699,492.5 689,497.5 681.5,502.5 675.25,501.25 669,493.75 659,487.5 644,488.75 635.25,491.25"/>
<path d="M630.25 477.5 L676.5 473.75 L680.25 478.75 L699 477.5 M699 492.5 L689 497.5 L681.5 502.5 L675.25 501.25 L669 493.75 L659 487.5 L644 488.75 L635.25 491.25 L630.25 477.5" fill="none" stroke="#7d7070" stroke-width="0.9" stroke-opacity="0.8" stroke-linejoin="round"/>
<polygon fill="#F4C3C0" points="660.25,397.5 699,397.5 699,477.5 680.25,478.75 676.5,473.75 675.25,445 671.5,430"/>
<path d="M699 477.5 L680.25 478.75 L676.5 473.75 L675.25 445 L671.5 430 L660.25 397.5" fill="none" stroke="#7d7070" stroke-width="0.9" stroke-opacity="0.8" stroke-linejoin="round"/>
<polygon fill="#FBDEDD" points="461.5,397.5 504,397.5 504,425 489,420 474,425 461.5,422.5"/>
<path d="M504 397.5 L504 425 L489 420 L474 425 L461.5 422.5" fill="none" stroke="#7d7070" stroke-width="0.9" stroke-opacity="0.8" stroke-linejoin="round"/>
<polygon fill="#B9B9B9" points="474,397.5 486.5,397.5 486.5,405 474,405"/>
<path d="M486.5 397.5 L486.5 405 L474 405 L474 397.5" fill="none" stroke="#7d7070" stroke-width="0.9" stroke-opacity="0.8" stroke-linejoin="round"/>
<polygon fill="#FBDEDD" points="504,397.5 522.75,397.5 522.75,438.75 512.75,440 512.75,428 504,425"/>
<path d="M522.75 397.5 L522.75 438.75 L512.75 440 L512.75 428 L504 425 L504 397.5" fill="none" stroke="#7d7070" stroke-width="0.9" stroke-opacity="0.8" stroke-linejoin="round"/>
<polygon fill="#B9B9B9" points="522.75,411.25 547.75,415 547.75,438.75 522.75,438.75"/>
<path d="M522.75 411.25 L547.75 415 L547.75 438.75 L522.75 438.75 L522.75 411.25" fill="none" stroke="#7d7070" stroke-width="0.9" stroke-opacity="0.8" stroke-linejoin="round"/>
<polygon fill="#F0A09E" points="693.5,478 729.75,475 733.5,470 743,471.25 746,482.5 752.25,497.5 753.5,501.25 741,497.5 729.75,500 729.75,505 724.75,510 718.5,508.75 711,500 703.5,490 693.5,492.5"/>
<path d="M693.5 478 L729.75 475 L733.5 470 L743 471.25 L746 482.5 L752.25 497.5 L753.5 501.25 L741 497.5 L729.75 500 L729.75 505 L724.75 510 L718.5 508.75 L711 500 L703.5 490 L693.5 492.5" fill="none" stroke="#7d7070" stroke-width="0.9" stroke-opacity="0.8" stroke-linejoin="round"/>
<polygon fill="#E84242" points="729.75,500 741,497.5 753.5,501.25 761,510 767.25,517.5 771,530 778.5,543.75 763.5,545 741,552.5 733.5,542.5 727.25,532.5 726,517.5 724.75,510 729.75,505"/>
<path d="M729.75 500 L741 497.5 L753.5 501.25 L761 510 L767.25 517.5 L771 530 L778.5 543.75 L763.5 545 L741 552.5 L733.5 542.5 L727.25 532.5 L726 517.5 L724.75 510 L729.75 505 L729.75 500" fill="none" stroke="#7d7070" stroke-width="0.9" stroke-opacity="0.8" stroke-linejoin="round"/>
<polygon fill="#BE292D" points="741,552.5 763.5,545 778.5,543.75 783.5,555 784.75,572.5 782.25,582.5 776,588.75 769.75,590 763.5,580 756,575 749.75,565 743.5,562.5"/>
<path d="M741 552.5 L763.5 545 L778.5 543.75 L783.5 555 L784.75 572.5 L782.25 582.5 L776 588.75 L769.75 590 L763.5 580 L756 575 L749.75 565 L743.5 562.5 L741 552.5" fill="none" stroke="#7d7070" stroke-width="0.9" stroke-opacity="0.8" stroke-linejoin="round"/>
<polygon fill="#F0A09E" points="719.75,437.5 742.25,437.5 747.25,440 743,471.25 733.5,470 733.5,479.5 729.75,480 729.75,475 724.75,475 718.5,460"/>
<path d="M719.75 437.5 L742.25 437.5 L747.25 440 L743 471.25 L733.5 470 L733.5 479.5 L729.75 480 L729.75 475 L724.75 475 L718.5 460 L719.75 437.5" fill="none" stroke="#7d7070" stroke-width="0.9" stroke-opacity="0.8" stroke-linejoin="round"/>
<polygon fill="#F0A09E" points="708.5,410 711,400 726,412.5 736,425 742.25,437.5 719.75,437.5 714.75,425"/>
<path d="M708.5 410 L711 400 L726 412.5 L736 425 L742.25 437.5 L719.75 437.5 L714.75 425 L708.5 410" fill="none" stroke="#7d7070" stroke-width="0.9" stroke-opacity="0.8" stroke-linejoin="round"/>
<polygon fill="#F4C3C0" points="693.5,407.5 708.5,410 714.75,425 719.75,437.5 718.5,460 724.75,475 693.5,478"/>
<path d="M693.5 407.5 L708.5 410 L714.75 425 L719.75 437.5 L718.5 460 L724.75 475 L693.5 478" fill="none" stroke="#7d7070" stroke-width="0.9" stroke-opacity="0.8" stroke-linejoin="round"/>
<polygon fill="#F4C3C0" points="711,397.5 756,397.5 753.5,407.5 746,415 736,407.5 728.5,415 726,412.5"/>
<path d="M756 397.5 L753.5 407.5 L746 415 L736 407.5 L728.5 415 L726 412.5 L711 397.5" fill="none" stroke="#7d7070" stroke-width="0.9" stroke-opacity="0.8" stroke-linejoin="round"/>
<polygon fill="#EE7673" points="186.25,186.25 211.25,181.25 212.5,197.5 207.5,207.5 200,200 186.25,193.75"/>
<path d="M186.25 186.25 L211.25 181.25 L212.5 197.5 L207.5 207.5 L200 200 L186.25 193.75 L186.25 186.25" fill="none" stroke="#7d7070" stroke-width="0.9" stroke-opacity="0.8" stroke-linejoin="round"/>
<polygon fill="#E84242" points="354.5,215 384.5,217 384.5,230 353.25,230"/>
<path d="M354.5 215 L384.5 217 L384.5 230 M353.25 230 L354.5 215" fill="none" stroke="#7d7070" stroke-width="0.9" stroke-opacity="0.8" stroke-linejoin="round"/>
<polygon fill="#EE7673" points="257,157.5 304.5,165 288.25,167 269.5,170.5 267,175 255.75,170"/>
<path d="M257 157.5 L304.5 165 L288.25 167 L269.5 170.5 L267 175 L255.75 170 L257 157.5" fill="none" stroke="#7d7070" stroke-width="0.9" stroke-opacity="0.8" stroke-linejoin="round"/>
<polygon fill="#A32428" points="859.75,186.25 868.5,191.25 876,192.5 878.5,187.5 874.75,183.75 879.75,186.25 882.25,198.75 871,201.25 866,198.75 859.75,201.25"/>
<path d="M859.75 186.25 L868.5 191.25 L876 192.5 L878.5 187.5 L874.75 183.75 L879.75 186.25 L882.25 198.75 L871 201.25 L866 198.75 L859.75 201.25 L859.75 186.25" fill="none" stroke="#7d7070" stroke-width="0.9" stroke-opacity="0.8" stroke-linejoin="round"/>
<polygon fill="#7A0A0C" points="824.75,222.5 836,217 846,212.5 856,210.5 851,216.25 838.5,222.5 827.25,227.5"/>
<path d="M824.75 222.5 L836 217 L846 212.5 L856 210.5 L851 216.25 L838.5 222.5 L827.25 227.5 L824.75 222.5" fill="none" stroke="#7d7070" stroke-width="0.9" stroke-opacity="0.8" stroke-linejoin="round"/>
<polygon fill="#BE292D" points="640,140 672,152 672,176 640,176 639.5,150"/>
<path d="M640 140 L672 152 L672 176 L640 176 L639.5 150 L640 140" fill="none" stroke="#7d7070" stroke-width="0.9" stroke-opacity="0.8" stroke-linejoin="round"/>
<polygon fill="#BE292D" points="664,180 690,180 690,215 672,215"/>
<path d="M664 180 L690 180 L690 215 L672 215 L664 180" fill="none" stroke="#7d7070" stroke-width="0.9" stroke-opacity="0.8" stroke-linejoin="round"/>
<polygon fill="#A32428" points="619,165 636.5,148.75 642.75,148.75 644,182.5 622.75,185"/>
<path d="M619 165 L636.5 148.75 L642.75 148.75 L644 182.5 L622.75 185 L619 165" fill="none" stroke="#7d7070" stroke-width="0.9" stroke-opacity="0.8" stroke-linejoin="round"/>
<polygon fill="#E84242" points="718.1,222.15 727.91,213.86 728.66,219.14 761.85,213.1 763.36,222.91 742.99,226.68 741.48,231.2 746.76,233.47 746.01,240.26 740.73,240.26 733.94,238.75 721.12,241.01"/>
<path d="M718.1 222.15 L727.91 213.86 L728.66 219.14 L761.85 213.1 L763.36 222.91 L742.99 226.68 L741.48 231.2 L746.76 233.47 L746.01 240.26 L740.73 240.26 L733.94 238.75 L721.12 241.01 L718.1 222.15" fill="none" stroke="#7d7070" stroke-width="0.9" stroke-opacity="0.8" stroke-linejoin="round"/>
<polygon fill="#F0A09E" points="721.12,241.01 733.94,238.75 740.73,240.26 746.01,240.26 748.27,244.03 746.76,253.83 752.8,255.34 752.04,264.39 724.89,270.43"/>
<path d="M721.12 241.01 L733.94 238.75 L740.73 240.26 L746.01 240.26 L748.27 244.03 L746.76 253.83 L752.8 255.34 L752.04 264.39 L724.89 270.43 L721.12 241.01" fill="none" stroke="#7d7070" stroke-width="0.9" stroke-opacity="0.8" stroke-linejoin="round"/>
<polygon fill="#F0A09E" points="741.48,231.2 742.99,226.68 763.36,222.91 772.41,231.96 770.9,238.75 764.87,241.01 748.27,244.03 746.01,240.26 746.76,233.47"/>
<path d="M741.48 231.2 L742.99 226.68 L763.36 222.91 L772.41 231.96 L770.9 238.75 L764.87 241.01 L748.27 244.03 L746.01 240.26 L746.76 233.47 L741.48 231.2" fill="none" stroke="#7d7070" stroke-width="0.9" stroke-opacity="0.8" stroke-linejoin="round"/>
<polygon fill="#F0A09E" points="761.85,213.1 795.04,205.56 794.28,213.86 791.27,215.37 790.51,219.89 782.21,224.42 776.93,222.15 773.92,219.89 763.36,222.91"/>
<path d="M761.85 213.1 L795.04 205.56 L794.28 213.86 L791.27 215.37 L790.51 219.89 L782.21 224.42 L776.93 222.15 L773.92 219.89 L763.36 222.91 L761.85 213.1" fill="none" stroke="#7d7070" stroke-width="0.9" stroke-opacity="0.8" stroke-linejoin="round"/>
<polygon fill="#EE7673" points="763.36,222.91 773.92,219.89 776.93,222.15 782.21,224.42 787.49,230.45 785.23,236.48 782.21,240.26 783.72,244.78 768.64,251.57 764.87,246.29 764.87,241.01 770.9,238.75 772.41,231.96"/>
<path d="M763.36 222.91 L773.92 219.89 L776.93 222.15 L782.21 224.42 L787.49 230.45 L785.23 236.48 L782.21 240.26 L783.72 244.78 L768.64 251.57 L764.87 246.29 L764.87 241.01 L770.9 238.75 L772.41 231.96 L763.36 222.91" fill="none" stroke="#7d7070" stroke-width="0.9" stroke-opacity="0.8" stroke-linejoin="round"/>
<polygon fill="#F0A09E" points="748.27,244.03 764.87,241.01 764.87,246.29 768.64,251.57 766.38,255.34 764.87,262.88 752.04,264.39 752.8,255.34 746.76,253.83"/>
<path d="M748.27 244.03 L764.87 241.01 L764.87 246.29 L768.64 251.57 L766.38 255.34 L764.87 262.88 L752.04 264.39 L752.8 255.34 L746.76 253.83 L748.27 244.03" fill="none" stroke="#7d7070" stroke-width="0.9" stroke-opacity="0.8" stroke-linejoin="round"/>
<polygon fill="#E84242" points="795.04,205.56 799.56,209.33 804.09,215.37 807.86,217.63 805.6,225.17 804.84,229.7 805.6,235.73 799.56,240.26 793.53,236.48 783.72,241.01 782.21,240.26 785.23,236.48 787.49,230.45 782.21,224.42 790.51,219.89 791.27,215.37 794.28,213.86"/>
<path d="M795.04 205.56 L799.56 209.33 L804.09 215.37 L807.86 217.63 L805.6 225.17 L804.84 229.7 L805.6 235.73 L799.56 240.26 L793.53 236.48 L783.72 241.01 L782.21 240.26 L785.23 236.48 L787.49 230.45 L782.21 224.42 L790.51 219.89 L791.27 215.37 L794.28 213.86 L795.04 205.56" fill="none" stroke="#7d7070" stroke-width="0.9" stroke-opacity="0.8" stroke-linejoin="round"/>
<polygon fill="#BE292D" points="783.72,241.01 793.53,236.48 799.56,240.26 805.6,235.73 813.89,243.27 804.09,254.59 802.58,253.83 792.02,256.1 780.71,247.8 783.72,244.78"/>
<path d="M783.72 241.01 L793.53 236.48 L799.56 240.26 L805.6 235.73 L813.89 243.27 L804.09 254.59 L802.58 253.83 L792.02 256.1 L780.71 247.8 L783.72 244.78 L783.72 241.01" fill="none" stroke="#7d7070" stroke-width="0.9" stroke-opacity="0.8" stroke-linejoin="round"/>
<polygon fill="#E84242" points="768.64,251.57 783.72,244.78 780.71,247.8 792.02,256.1 764.87,262.88 766.38,255.34"/>
<path d="M768.64 251.57 L783.72 244.78 L780.71 247.8 L792.02 256.1 L764.87 262.88 L766.38 255.34 L768.64 251.57" fill="none" stroke="#7d7070" stroke-width="0.9" stroke-opacity="0.8" stroke-linejoin="round"/>
<polygon fill="#A32428" points="807.86,217.63 823.7,223.66 825.51,240.26 823.7,253.08 819.17,270.43 814.65,262.88 808.61,258.36 804.09,254.59 813.89,243.27 804.84,229.7 805.6,225.17"/>
<path d="M807.86 217.63 L823.7 223.66 L825.51 240.26 L823.7 253.08 L819.17 270.43 L814.65 262.88 L808.61 258.36 L804.09 254.59 L813.89 243.27 L804.84 229.7 L805.6 225.17 L807.86 217.63" fill="none" stroke="#7d7070" stroke-width="0.9" stroke-opacity="0.8" stroke-linejoin="round"/>
<polygon fill="#EE7673" points="745.26,194.25 778.44,194.25 779.95,202.54 776.93,204.05 767.88,205.56 766.38,199.53 757.32,201.03 755.82,204.05 745.26,204.05"/>
<path d="M778.44 194.25 L779.95 202.54 L776.93 204.05 L767.88 205.56 L766.38 199.53 L757.32 201.03 L755.82 204.05 L745.26 204.05 L745.26 194.25" fill="none" stroke="#7d7070" stroke-width="0.9" stroke-opacity="0.8" stroke-linejoin="round"/>
<polygon fill="#F0A09E" points="737.71,207.07 745.26,204.05 755.82,204.05 757.32,201.03 766.38,199.53 767.88,205.56 776.93,204.05 778.44,207.82 738.47,216.12"/>
<path d="M737.71 207.07 L745.26 204.05 L755.82 204.05 L757.32 201.03 L766.38 199.53 L767.88 205.56 L776.93 204.05 L778.44 207.82 L738.47 216.12 L737.71 207.07" fill="none" stroke="#7d7070" stroke-width="0.9" stroke-opacity="0.8" stroke-linejoin="round"/>
<polygon fill="#EE7673" points="778.44,194.25 813.14,194.25 814.65,210.09 811.63,217.63 807.86,217.63 804.09,215.37 799.56,209.33 795.04,205.56 778.44,207.82 776.93,204.05 779.95,202.54"/>
<path d="M813.14 194.25 L814.65 210.09 L811.63 217.63 L807.86 217.63 L804.09 215.37 L799.56 209.33 L795.04 205.56 L778.44 207.82 L776.93 204.05 L779.95 202.54 L778.44 194.25" fill="none" stroke="#7d7070" stroke-width="0.9" stroke-opacity="0.8" stroke-linejoin="round"/>
<polygon fill="#E84242" points="727.91,213.86 736.2,204.05 736.96,194.25 745.26,194.25 745.26,204.05 737.71,207.07 738.47,216.12 728.66,219.14"/>
<path d="M727.91 213.86 L736.2 204.05 L736.96 194.25 M745.26 194.25 L745.26 204.05 L737.71 207.07 L738.47 216.12 L728.66 219.14 L727.91 213.86" fill="none" stroke="#7d7070" stroke-width="0.9" stroke-opacity="0.8" stroke-linejoin="round"/>
<polygon fill="#BE292D" points="813.14,194.25 825.21,194.25 824.91,217.63 823.7,223.66 807.86,217.63 811.63,217.63 814.65,210.09"/>
<path d="M825.21 194.25 L824.91 217.63 L823.7 223.66 L807.86 217.63 L811.63 217.63 L814.65 210.09 L813.14 194.25" fill="none" stroke="#7d7070" stroke-width="0.9" stroke-opacity="0.8" stroke-linejoin="round"/>
<polygon fill="#F0A09E" points="464,286.75 489,286.75 501,303 501,328 464,328"/>
<path d="M464 286.75 L489 286.75 L501 303 L501 328 L464 328" fill="none" stroke="#7d7070" stroke-width="0.9" stroke-opacity="0.8" stroke-linejoin="round"/>
<polygon fill="#F4C3C0" points="678.5,379.25 681.5,373 699,364.25 699,383 679,384.25"/>
<path d="M678.5 379.25 L681.5 373 L699 364.25 M699 383 L679 384.25 L678.5 379.25" fill="none" stroke="#7d7070" stroke-width="0.9" stroke-opacity="0.8" stroke-linejoin="round"/>
<polyline points="504,228 505.25,251.75" fill="none" stroke="#7d7070" stroke-width="0.9" stroke-opacity="0.8" stroke-linejoin="round"/>
<polyline points="535.25,228 535.25,251.75" fill="none" stroke="#7d7070" stroke-width="0.9" stroke-opacity="0.8" stroke-linejoin="round"/>
<polyline points="480.25,253 505.25,251.75 535.25,251.75 555.25,255.5" fill="none" stroke="#7d7070" stroke-width="0.9" stroke-opacity="0.8" stroke-linejoin="round"/>
<polyline points="502.75,253 502.75,273" fill="none" stroke="#7d7070" stroke-width="0.9" stroke-opacity="0.8" stroke-linejoin="round"/>
<polyline points="530.25,253 531.5,272.5" fill="none" stroke="#7d7070" stroke-width="0.9" stroke-opacity="0.8" stroke-linejoin="round"/>
<polyline points="529,272.5 530.25,288 534,305.5 501.5,311.75" fill="none" stroke="#7d7070" stroke-width="0.9" stroke-opacity="0.8" stroke-linejoin="round"/>
<polyline points="534,305.5 541.5,313 537.75,328 517.75,333 517.75,338 501.5,338" fill="none" stroke="#7d7070" stroke-width="0.9" stroke-opacity="0.8" stroke-linejoin="round"/>
<polyline points="541.5,313 550.25,324.25 571.5,318" fill="none" stroke="#7d7070" stroke-width="0.9" stroke-opacity="0.8" stroke-linejoin="round"/>
<polyline points="537.75,328 544,338 542.75,361.75" fill="none" stroke="#7d7070" stroke-width="0.9" stroke-opacity="0.8" stroke-linejoin="round"/>
<polyline points="517.75,338 539,340.5 544,338" fill="none" stroke="#7d7070" stroke-width="0.9" stroke-opacity="0.8" stroke-linejoin="round"/>
<polyline points="544,338 564,345.5 567.75,353" fill="none" stroke="#7d7070" stroke-width="0.9" stroke-opacity="0.8" stroke-linejoin="round"/>
<polyline points="586.5,228 586.5,255.5" fill="none" stroke="#7d7070" stroke-width="0.9" stroke-opacity="0.8" stroke-linejoin="round"/>
<polyline points="574,256.75 589,256.75 596.5,268 594,281.75" fill="none" stroke="#7d7070" stroke-width="0.9" stroke-opacity="0.8" stroke-linejoin="round"/>
<polyline points="589,288 587.75,313" fill="none" stroke="#7d7070" stroke-width="0.9" stroke-opacity="0.8" stroke-linejoin="round"/>
<polyline points="572.75,311.75 589,313 591.5,314.25 614,311.75" fill="none" stroke="#7d7070" stroke-width="0.9" stroke-opacity="0.8" stroke-linejoin="round"/>
<polyline points="591.5,314.25 591.5,333 599,336.75" fill="none" stroke="#7d7070" stroke-width="0.9" stroke-opacity="0.8" stroke-linejoin="round"/>
<polyline points="559,288 574,275.5 589,288 599,284.25 611.5,281.75" fill="none" stroke="#7d7070" stroke-width="0.9" stroke-opacity="0.8" stroke-linejoin="round"/>
<polyline points="624,239.25 624,266.75" fill="none" stroke="#7d7070" stroke-width="0.9" stroke-opacity="0.8" stroke-linejoin="round"/>
<polyline points="639,238 644,264.25" fill="none" stroke="#7d7070" stroke-width="0.9" stroke-opacity="0.8" stroke-linejoin="round"/>
<polyline points="612.75,269.25 624,266.75 644,264.25 655.25,263" fill="none" stroke="#7d7070" stroke-width="0.9" stroke-opacity="0.8" stroke-linejoin="round"/>
<polyline points="624,266.75 626.5,293 614,300.5" fill="none" stroke="#7d7070" stroke-width="0.9" stroke-opacity="0.8" stroke-linejoin="round"/>
<polyline points="644,264.25 649,291.75 649,303" fill="none" stroke="#7d7070" stroke-width="0.9" stroke-opacity="0.8" stroke-linejoin="round"/>
<polyline points="655.25,259.25 676.5,258 679,255.5" fill="none" stroke="#7d7070" stroke-width="0.9" stroke-opacity="0.8" stroke-linejoin="round"/>
<polyline points="676.5,258 681.5,285.5 679,300.5" fill="none" stroke="#7d7070" stroke-width="0.9" stroke-opacity="0.8" stroke-linejoin="round"/>
<polyline points="679,255.5 695.5,248" fill="none" stroke="#7d7070" stroke-width="0.9" stroke-opacity="0.8" stroke-linejoin="round"/>
<polyline points="681.5,285.5 695.5,281.75" fill="none" stroke="#7d7070" stroke-width="0.9" stroke-opacity="0.8" stroke-linejoin="round"/>
<polyline points="689,263 690.25,281.75" fill="none" stroke="#7d7070" stroke-width="0.9" stroke-opacity="0.8" stroke-linejoin="round"/>
<polyline points="634,324.25 629,338 636.5,348" fill="none" stroke="#7d7070" stroke-width="0.9" stroke-opacity="0.8" stroke-linejoin="round"/>
<polyline points="650.25,308 654,313 664,333 661.5,348" fill="none" stroke="#7d7070" stroke-width="0.9" stroke-opacity="0.8" stroke-linejoin="round"/>
<polyline points="681.5,308 676.5,323 664,333" fill="none" stroke="#7d7070" stroke-width="0.9" stroke-opacity="0.8" stroke-linejoin="round"/>
<polyline points="611.5,358 609,390.5" fill="none" stroke="#7d7070" stroke-width="0.9" stroke-opacity="0.8" stroke-linejoin="round"/>
<polyline points="654,350.5 650.25,363 652.75,368 644,373 642.75,388" fill="none" stroke="#7d7070" stroke-width="0.9" stroke-opacity="0.8" stroke-linejoin="round"/>
<polyline points="674,349.25 664,368 659,386.75" fill="none" stroke="#7d7070" stroke-width="0.9" stroke-opacity="0.8" stroke-linejoin="round"/>
<polyline points="530.25,363 530.25,385.5 504,388" fill="none" stroke="#7d7070" stroke-width="0.9" stroke-opacity="0.8" stroke-linejoin="round"/>
<polyline points="556.5,361.75 559,368 549,375.5 549,385.5 530.25,385.5" fill="none" stroke="#7d7070" stroke-width="0.9" stroke-opacity="0.8" stroke-linejoin="round"/>
<polyline points="546.5,393 576.5,390.5" fill="none" stroke="#7d7070" stroke-width="0.9" stroke-opacity="0.8" stroke-linejoin="round"/>
<polyline points="531.5,390.5 524,400.5 514,403 512.75,410.5" fill="none" stroke="#7d7070" stroke-width="0.9" stroke-opacity="0.8" stroke-linejoin="round"/>
<polyline points="544,411.75 560.25,416.75" fill="none" stroke="#7d7070" stroke-width="0.9" stroke-opacity="0.8" stroke-linejoin="round"/>
<polyline points="549,385.5 546.5,393 546.5,403 560.25,416.75" fill="none" stroke="#7d7070" stroke-width="0.9" stroke-opacity="0.8" stroke-linejoin="round"/>
<polyline points="464,303 501,303" fill="none" stroke="#7d7070" stroke-width="0.9" stroke-opacity="0.8" stroke-linejoin="round"/>
<polyline points="464,328 501,328" fill="none" stroke="#7d7070" stroke-width="0.9" stroke-opacity="0.8" stroke-linejoin="round"/>
<polyline points="479,286.75 479,303" fill="none" stroke="#7d7070" stroke-width="0.9" stroke-opacity="0.8" stroke-linejoin="round"/>
<polyline points="481.5,303 482.75,328" fill="none" stroke="#7d7070" stroke-width="0.9" stroke-opacity="0.8" stroke-linejoin="round"/>
<polyline points="464,370.5 474,378 476.5,378" fill="none" stroke="#7d7070" stroke-width="0.9" stroke-opacity="0.8" stroke-linejoin="round"/>
<polyline points="485.25,404.25 484,420.5" fill="none" stroke="#7d7070" stroke-width="0.9" stroke-opacity="0.8" stroke-linejoin="round"/>
<polyline points="580.25,413 582.75,413 581.5,423" fill="none" stroke="#7d7070" stroke-width="0.9" stroke-opacity="0.8" stroke-linejoin="round"/>
<polyline points="644,389.25 641.5,400.5 634,405.5 614,406.75" fill="none" stroke="#7d7070" stroke-width="0.9" stroke-opacity="0.8" stroke-linejoin="round"/>
<polyline points="674,385.5 676.5,410.5 664,413" fill="none" stroke="#7d7070" stroke-width="0.9" stroke-opacity="0.8" stroke-linejoin="round"/>
<polyline points="676.5,410.5 695.5,413" fill="none" stroke="#7d7070" stroke-width="0.9" stroke-opacity="0.8" stroke-linejoin="round"/>
<polyline points="684,408 686.5,388" fill="none" stroke="#7d7070" stroke-width="0.9" stroke-opacity="0.8" stroke-linejoin="round"/>
<polyline points="237,75 240.75,87.5 237,105 244.5,120 232,130" fill="none" stroke="#7d7070" stroke-width="0.9" stroke-opacity="0.8" stroke-linejoin="round"/>
<polyline points="250.75,120 253.25,135 264.5,132.5 257,150 257,157" fill="none" stroke="#7d7070" stroke-width="0.9" stroke-opacity="0.8" stroke-linejoin="round"/>
<polyline points="264.5,132.5 282,136.25 318.25,132.5 320.75,157.5 327,163.75" fill="none" stroke="#7d7070" stroke-width="0.9" stroke-opacity="0.8" stroke-linejoin="round"/>
<polyline points="308.25,122.5 309.5,131.25 318.25,132.5" fill="none" stroke="#7d7070" stroke-width="0.9" stroke-opacity="0.8" stroke-linejoin="round"/>
<polyline points="250.75,120 244.5,120" fill="none" stroke="#7d7070" stroke-width="0.9" stroke-opacity="0.8" stroke-linejoin="round"/>
<polyline points="363.75,116.25 378.25,117.5 378.25,126.25 390.75,128.75 390.75,150" fill="none" stroke="#7d7070" stroke-width="0.9" stroke-opacity="0.8" stroke-linejoin="round"/>
<polyline points="412,111.25 410.75,122.5 419.5,122.5 420.75,138.75" fill="none" stroke="#7d7070" stroke-width="0.9" stroke-opacity="0.8" stroke-linejoin="round"/>
<polyline points="442,115.5 443.25,138.75" fill="none" stroke="#7d7070" stroke-width="0.9" stroke-opacity="0.8" stroke-linejoin="round"/>
<polyline points="378.25,126.25 410.75,122.5" fill="none" stroke="#7d7070" stroke-width="0.9" stroke-opacity="0.8" stroke-linejoin="round"/>
<polyline points="397,172.5 432,173.75 432,152.5" fill="none" stroke="#7d7070" stroke-width="0.9" stroke-opacity="0.8" stroke-linejoin="round"/>
<polyline points="395.75,200 423.25,201.25 424.5,207.5 430.75,206.25 430.75,217.5" fill="none" stroke="#7d7070" stroke-width="0.9" stroke-opacity="0.8" stroke-linejoin="round"/>
<polyline points="432,173.75 432,197.5" fill="none" stroke="#7d7070" stroke-width="0.9" stroke-opacity="0.8" stroke-linejoin="round"/>
<polyline points="362,180 395.75,182" fill="none" stroke="#7d7070" stroke-width="0.9" stroke-opacity="0.8" stroke-linejoin="round"/>
<polyline points="358.25,195 367,190 369.5,200 364.5,210 358.25,207.5" fill="none" stroke="#7d7070" stroke-width="0.9" stroke-opacity="0.8" stroke-linejoin="round"/>
<polyline points="268.25,170 277,185 294.5,195 307,192.5 312,185" fill="none" stroke="#7d7070" stroke-width="0.9" stroke-opacity="0.8" stroke-linejoin="round"/>
<polyline points="269.5,192.5 282,205 292,213.75" fill="none" stroke="#7d7070" stroke-width="0.9" stroke-opacity="0.8" stroke-linejoin="round"/>
<polyline points="328.25,197.5 352,187.5" fill="none" stroke="#7d7070" stroke-width="0.9" stroke-opacity="0.8" stroke-linejoin="round"/>
<polyline points="327,210 332,185" fill="none" stroke="#7d7070" stroke-width="0.9" stroke-opacity="0.8" stroke-linejoin="round"/>
<polyline points="384.5,217 384.5,227.5" fill="none" stroke="#7d7070" stroke-width="0.9" stroke-opacity="0.8" stroke-linejoin="round"/>
<polyline points="412,246.75 442,246.75 442,228" fill="none" stroke="#7d7070" stroke-width="0.9" stroke-opacity="0.8" stroke-linejoin="round"/>
<polyline points="412,246.75 410.75,269.25 440.75,270.5 442,284.25" fill="none" stroke="#7d7070" stroke-width="0.9" stroke-opacity="0.8" stroke-linejoin="round"/>
<polyline points="384.5,253 384.5,228" fill="none" stroke="#7d7070" stroke-width="0.9" stroke-opacity="0.8" stroke-linejoin="round"/>
<polyline points="443.25,270.5 442,284.25" fill="none" stroke="#7d7070" stroke-width="0.9" stroke-opacity="0.8" stroke-linejoin="round"/>
<polyline points="418.25,285.5 418.25,350.5" fill="none" stroke="#7d7070" stroke-width="0.9" stroke-opacity="0.8" stroke-linejoin="round"/>
<polyline points="379.5,320.5 418.25,323 458.25,326.75" fill="none" stroke="#7d7070" stroke-width="0.9" stroke-opacity="0.8" stroke-linejoin="round"/>
<polyline points="418.25,303 444.5,303 447,308 463.5,305.5" fill="none" stroke="#7d7070" stroke-width="0.9" stroke-opacity="0.8" stroke-linejoin="round"/>
<polyline points="458.25,326.75 458.25,351.75" fill="none" stroke="#7d7070" stroke-width="0.9" stroke-opacity="0.8" stroke-linejoin="round"/>
<polyline points="314.5,311.75 320.75,328 325.75,333 324.5,343" fill="none" stroke="#7d7070" stroke-width="0.9" stroke-opacity="0.8" stroke-linejoin="round"/>
<polyline points="332,355.5 330.75,360.5 334.5,375.5 327,380.5" fill="none" stroke="#7d7070" stroke-width="0.9" stroke-opacity="0.8" stroke-linejoin="round"/>
<polyline points="348.25,349.25 347,358 339.5,366.75 334.5,358" fill="none" stroke="#7d7070" stroke-width="0.9" stroke-opacity="0.8" stroke-linejoin="round"/>
<polyline points="260.75,336.75 294.5,344.25 289.5,359.25 269.5,371.75" fill="none" stroke="#7d7070" stroke-width="0.9" stroke-opacity="0.8" stroke-linejoin="round"/>
<polyline points="250.75,415.5 232,410.5" fill="none" stroke="#7d7070" stroke-width="0.9" stroke-opacity="0.8" stroke-linejoin="round"/>
<polyline points="257,388 252,388" fill="none" stroke="#7d7070" stroke-width="0.9" stroke-opacity="0.8" stroke-linejoin="round"/>
<polyline points="232,273 244.5,260.5" fill="none" stroke="#7d7070" stroke-width="0.9" stroke-opacity="0.8" stroke-linejoin="round"/>
<polyline points="232,243 242.5,244.25" fill="none" stroke="#7d7070" stroke-width="0.9" stroke-opacity="0.8" stroke-linejoin="round"/>
<polyline points="410,368 418.25,368" fill="none" stroke="#7d7070" stroke-width="0.9" stroke-opacity="0.8" stroke-linejoin="round"/>
<polyline points="439.5,378 439.5,388" fill="none" stroke="#7d7070" stroke-width="0.9" stroke-opacity="0.8" stroke-linejoin="round"/>
<polyline points="392,390.5 389.5,428 379.5,433 377,445.5 384.5,455.5" fill="none" stroke="#7d7070" stroke-width="0.9" stroke-opacity="0.8" stroke-linejoin="round"/>
<polyline points="417,430.5 424.5,420.5 439.5,415.5" fill="none" stroke="#7d7070" stroke-width="0.9" stroke-opacity="0.8" stroke-linejoin="round"/>
<polyline points="490.25,136.25 495.25,136.25" fill="none" stroke="#7d7070" stroke-width="0.9" stroke-opacity="0.8" stroke-linejoin="round"/>
<polyline points="495.25,185 495.25,207.5" fill="none" stroke="#7d7070" stroke-width="0.9" stroke-opacity="0.8" stroke-linejoin="round"/>
<polyline points="521.5,185 522.75,206.25" fill="none" stroke="#7d7070" stroke-width="0.9" stroke-opacity="0.8" stroke-linejoin="round"/>
<polyline points="471.5,183.75 514,183.75" fill="none" stroke="#7d7070" stroke-width="0.9" stroke-opacity="0.8" stroke-linejoin="round"/>
<polyline points="489,160 489,183.75" fill="none" stroke="#7d7070" stroke-width="0.9" stroke-opacity="0.8" stroke-linejoin="round"/>
<polyline points="551.5,130 555.25,172.5" fill="none" stroke="#7d7070" stroke-width="0.9" stroke-opacity="0.8" stroke-linejoin="round"/>
<polyline points="562.75,178.75 562.75,200" fill="none" stroke="#7d7070" stroke-width="0.9" stroke-opacity="0.8" stroke-linejoin="round"/>
<polyline points="586.5,180 585.25,200" fill="none" stroke="#7d7070" stroke-width="0.9" stroke-opacity="0.8" stroke-linejoin="round"/>
<polyline points="574,201.25 572.75,217.5" fill="none" stroke="#7d7070" stroke-width="0.9" stroke-opacity="0.8" stroke-linejoin="round"/>
<polyline points="592.75,202.5 589,225" fill="none" stroke="#7d7070" stroke-width="0.9" stroke-opacity="0.8" stroke-linejoin="round"/>
<polyline points="547.75,200 585.25,200 601.5,202.5" fill="none" stroke="#7d7070" stroke-width="0.9" stroke-opacity="0.8" stroke-linejoin="round"/>
<polyline points="642.75,150 644,182.5" fill="none" stroke="#7d7070" stroke-width="0.9" stroke-opacity="0.8" stroke-linejoin="round"/>
<polyline points="622.75,185 644,182.5 655.25,182.5" fill="none" stroke="#7d7070" stroke-width="0.9" stroke-opacity="0.8" stroke-linejoin="round"/>
<polyline points="634,185 636.5,205" fill="none" stroke="#7d7070" stroke-width="0.9" stroke-opacity="0.8" stroke-linejoin="round"/>
<polyline points="655.25,182.5 654,197.5 661.5,202.5 659,207.5" fill="none" stroke="#7d7070" stroke-width="0.9" stroke-opacity="0.8" stroke-linejoin="round"/>
<polyline points="629,205 640.25,206.25 661.5,207.5" fill="none" stroke="#7d7070" stroke-width="0.9" stroke-opacity="0.8" stroke-linejoin="round"/>
<polyline points="640.25,206.25 639,227.5" fill="none" stroke="#7d7070" stroke-width="0.9" stroke-opacity="0.8" stroke-linejoin="round"/>
<polyline points="661.5,202.5 684,207.5" fill="none" stroke="#7d7070" stroke-width="0.9" stroke-opacity="0.8" stroke-linejoin="round"/>
<polyline points="606.5,136.25 605.25,150" fill="none" stroke="#7d7070" stroke-width="0.9" stroke-opacity="0.8" stroke-linejoin="round"/>
<polyline points="501.5,207.5 502.75,227.5" fill="none" stroke="#7d7070" stroke-width="0.9" stroke-opacity="0.8" stroke-linejoin="round"/>
<polyline points="530.25,207 531,227.5" fill="none" stroke="#7d7070" stroke-width="0.9" stroke-opacity="0.8" stroke-linejoin="round"/>
<polyline points="736,320.5 738.5,323 733.5,335.5" fill="none" stroke="#7d7070" stroke-width="0.9" stroke-opacity="0.8" stroke-linejoin="round"/>
<polyline points="762.25,313 746,328 738.5,340.5" fill="none" stroke="#7d7070" stroke-width="0.9" stroke-opacity="0.8" stroke-linejoin="round"/>
<polyline points="784.75,279.25 788.5,303 783.5,330.5" fill="none" stroke="#7d7070" stroke-width="0.9" stroke-opacity="0.8" stroke-linejoin="round"/>
<polyline points="738.5,340.5 741,350.5 781,344.25 778.5,333" fill="none" stroke="#7d7070" stroke-width="0.9" stroke-opacity="0.8" stroke-linejoin="round"/>
<polyline points="781,344.25 801,338" fill="none" stroke="#7d7070" stroke-width="0.9" stroke-opacity="0.8" stroke-linejoin="round"/>
<polyline points="726,353 741,350.5" fill="none" stroke="#7d7070" stroke-width="0.9" stroke-opacity="0.8" stroke-linejoin="round"/>
<polyline points="722.25,371.75 726,353" fill="none" stroke="#7d7070" stroke-width="0.9" stroke-opacity="0.8" stroke-linejoin="round"/>
<polyline points="726,353 764.75,364.25 771,355.5 781,344.25" fill="none" stroke="#7d7070" stroke-width="0.9" stroke-opacity="0.8" stroke-linejoin="round"/>
<polyline points="764.75,364.25 758.5,375.5" fill="none" stroke="#7d7070" stroke-width="0.9" stroke-opacity="0.8" stroke-linejoin="round"/>
<polyline points="771,355.5 796,364.25" fill="none" stroke="#7d7070" stroke-width="0.9" stroke-opacity="0.8" stroke-linejoin="round"/>
<polyline points="749.75,388 758.5,375.5" fill="none" stroke="#7d7070" stroke-width="0.9" stroke-opacity="0.8" stroke-linejoin="round"/>
<polyline points="757.25,398 773.5,403" fill="none" stroke="#7d7070" stroke-width="0.9" stroke-opacity="0.8" stroke-linejoin="round"/>
<polyline points="744.75,413 756,425.5" fill="none" stroke="#7d7070" stroke-width="0.9" stroke-opacity="0.8" stroke-linejoin="round"/>
<polyline points="711,390.5 722.25,393" fill="none" stroke="#7d7070" stroke-width="0.9" stroke-opacity="0.8" stroke-linejoin="round"/>
<polyline points="708.5,410.5 696,408" fill="none" stroke="#7d7070" stroke-width="0.9" stroke-opacity="0.8" stroke-linejoin="round"/>
<polyline points="714.75,428 696,430.5" fill="none" stroke="#7d7070" stroke-width="0.9" stroke-opacity="0.8" stroke-linejoin="round"/>
<polyline points="719.75,438 741,435.5" fill="none" stroke="#7d7070" stroke-width="0.9" stroke-opacity="0.8" stroke-linejoin="round"/>
<polyline points="718.5,295.5 736,290.5 743.5,300.5" fill="none" stroke="#7d7070" stroke-width="0.9" stroke-opacity="0.8" stroke-linejoin="round"/>
<polyline points="713.5,313 726,310.5 736,303" fill="none" stroke="#7d7070" stroke-width="0.9" stroke-opacity="0.8" stroke-linejoin="round"/>
<polyline points="727.25,270.5 718.5,295.5" fill="none" stroke="#7d7070" stroke-width="0.9" stroke-opacity="0.8" stroke-linejoin="round"/>
<polyline points="706,263 704.75,253 703.5,243" fill="none" stroke="#7d7070" stroke-width="0.9" stroke-opacity="0.8" stroke-linejoin="round"/>
<polyline points="474,500 476.5,470 469,460 476.5,455 479,440 489,430 489,420" fill="none" stroke="#7d7070" stroke-width="0.9" stroke-opacity="0.8" stroke-linejoin="round"/>
<polyline points="527.75,440 526.5,453.75 531.5,460 524,465 516.5,463.75" fill="none" stroke="#7d7070" stroke-width="0.9" stroke-opacity="0.8" stroke-linejoin="round"/>
<polyline points="549,439.5 550.25,460" fill="none" stroke="#7d7070" stroke-width="0.9" stroke-opacity="0.8" stroke-linejoin="round"/>
<polyline points="555.25,495 569,498.75 589,497.5" fill="none" stroke="#7d7070" stroke-width="0.9" stroke-opacity="0.8" stroke-linejoin="round"/>
<polyline points="569,498.75 571.5,510 566.5,520" fill="none" stroke="#7d7070" stroke-width="0.9" stroke-opacity="0.8" stroke-linejoin="round"/>
<polyline points="581.5,447.5 584,458.75 581.5,475 576.5,481.25" fill="none" stroke="#7d7070" stroke-width="0.9" stroke-opacity="0.8" stroke-linejoin="round"/>
<polyline points="584,458.75 595.25,453.75 597.75,475 599,481.25" fill="none" stroke="#7d7070" stroke-width="0.9" stroke-opacity="0.8" stroke-linejoin="round"/>
<polyline points="597.75,445 595.25,453.75" fill="none" stroke="#7d7070" stroke-width="0.9" stroke-opacity="0.8" stroke-linejoin="round"/>
<polyline points="674,412.5 695.5,415" fill="none" stroke="#7d7070" stroke-width="0.9" stroke-opacity="0.8" stroke-linejoin="round"/>
<polyline points="675.25,445 695.5,442.5" fill="none" stroke="#7d7070" stroke-width="0.9" stroke-opacity="0.8" stroke-linejoin="round"/>
<polyline points="415.75,432.5 413.25,460" fill="none" stroke="#7d7070" stroke-width="0.9" stroke-opacity="0.8" stroke-linejoin="round"/>
<polyline points="444.5,486.25 439.5,495" fill="none" stroke="#7d7070" stroke-width="0.9" stroke-opacity="0.8" stroke-linejoin="round"/>
<polyline points="414.5,515 413.25,525" fill="none" stroke="#7d7070" stroke-width="0.9" stroke-opacity="0.8" stroke-linejoin="round"/>
<polyline points="439.5,525 442,540 438.25,560 439.5,567.5 449.5,562.5" fill="none" stroke="#7d7070" stroke-width="0.9" stroke-opacity="0.8" stroke-linejoin="round"/>
<polyline points="428.25,590 433.25,577.5 439.5,578.75 443.25,582.5" fill="none" stroke="#7d7070" stroke-width="0.9" stroke-opacity="0.8" stroke-linejoin="round"/>
<polyline points="727.25,530 739.75,525 763.5,520" fill="none" stroke="#7d7070" stroke-width="0.9" stroke-opacity="0.8" stroke-linejoin="round"/>
<polyline points="778.5,543.75 781,560 782.25,582.5" fill="none" stroke="#7d7070" stroke-width="0.9" stroke-opacity="0.8" stroke-linejoin="round"/>
<polyline points="696,442.5 707.25,447.5 719.75,437.5" fill="none" stroke="#7d7070" stroke-width="0.9" stroke-opacity="0.8" stroke-linejoin="round"/>
<polyline points="708.5,410 714.75,425 719.75,437.5" fill="none" stroke="#7d7070" stroke-width="0.9" stroke-opacity="0.8" stroke-linejoin="round"/>
<polyline points="718.5,460 696,461.25" fill="none" stroke="#7d7070" stroke-width="0.9" stroke-opacity="0.8" stroke-linejoin="round"/>
<polyline points="113.75,32.5 118.75,50 110,75 100,100 96.25,105" fill="none" stroke="#7d7070" stroke-width="0.9" stroke-opacity="0.8" stroke-linejoin="round"/>
<polyline points="130,40 125,60 117.5,82.5 110,107.5" fill="none" stroke="#7d7070" stroke-width="0.9" stroke-opacity="0.8" stroke-linejoin="round"/>
<polyline points="140,41.25 135,62.5 136.25,75 125,90 122.5,110" fill="none" stroke="#7d7070" stroke-width="0.9" stroke-opacity="0.8" stroke-linejoin="round"/>
<polyline points="160,46.25 157.5,70 182,82.5" fill="none" stroke="#7d7070" stroke-width="0.9" stroke-opacity="0.8" stroke-linejoin="round"/>
<polyline points="136.25,75 157.5,77.5 172.5,86.25 156.25,105" fill="none" stroke="#7d7070" stroke-width="0.9" stroke-opacity="0.8" stroke-linejoin="round"/>
<polyline points="150,53.75 145,65 136.25,75" fill="none" stroke="#7d7070" stroke-width="0.9" stroke-opacity="0.8" stroke-linejoin="round"/>
<polyline points="79.5,86.25 85,100 75,125 67.5,136.25" fill="none" stroke="#7d7070" stroke-width="0.9" stroke-opacity="0.8" stroke-linejoin="round"/>
<polyline points="103.75,115 97.5,130 88.75,150 82.5,151.25" fill="none" stroke="#7d7070" stroke-width="0.9" stroke-opacity="0.8" stroke-linejoin="round"/>
<polyline points="67.5,136.25 72.5,125 82.5,151.25" fill="none" stroke="#7d7070" stroke-width="0.9" stroke-opacity="0.8" stroke-linejoin="round"/>
<polyline points="53.75,176.25 53.75,165 61.25,152.5" fill="none" stroke="#7d7070" stroke-width="0.9" stroke-opacity="0.8" stroke-linejoin="round"/>
<polyline points="192.5,75 197.5,82.5 192.5,100 185,107.5 180,117.5" fill="none" stroke="#7d7070" stroke-width="0.9" stroke-opacity="0.8" stroke-linejoin="round"/>
<polyline points="182.5,110 190,115 192.5,125 185,127.5 180,120" fill="none" stroke="#7d7070" stroke-width="0.9" stroke-opacity="0.8" stroke-linejoin="round"/>
<polyline points="207.5,157.5 210,175 217.5,180" fill="none" stroke="#7d7070" stroke-width="0.9" stroke-opacity="0.8" stroke-linejoin="round"/>
<polyline points="175,162.5 185,185 200,190 212.5,180 231.5,166.25" fill="none" stroke="#7d7070" stroke-width="0.9" stroke-opacity="0.8" stroke-linejoin="round"/>
<polyline points="62.5,197.5 75,195 90,197.5 85,215 90,227.5" fill="none" stroke="#7d7070" stroke-width="0.9" stroke-opacity="0.8" stroke-linejoin="round"/>
<polyline points="52.5,227.5 53.75,212.5 62.5,197.5" fill="none" stroke="#7d7070" stroke-width="0.9" stroke-opacity="0.8" stroke-linejoin="round"/>
<polyline points="150,203 151.25,227.5" fill="none" stroke="#7d7070" stroke-width="0.9" stroke-opacity="0.8" stroke-linejoin="round"/>
<polyline points="45,228 46.25,243 57.5,268" fill="none" stroke="#7d7070" stroke-width="0.9" stroke-opacity="0.8" stroke-linejoin="round"/>
<polyline points="53.75,228 52.5,238 47.5,239.25" fill="none" stroke="#7d7070" stroke-width="0.9" stroke-opacity="0.8" stroke-linejoin="round"/>
<polyline points="88.75,245.5 90,258 96.25,280.5" fill="none" stroke="#7d7070" stroke-width="0.9" stroke-opacity="0.8" stroke-linejoin="round"/>
<polyline points="147.5,228 136.25,243 137.5,253 128.75,261.75" fill="none" stroke="#7d7070" stroke-width="0.9" stroke-opacity="0.8" stroke-linejoin="round"/>
<polyline points="215,228 212.5,250.5 217.5,268" fill="none" stroke="#7d7070" stroke-width="0.9" stroke-opacity="0.8" stroke-linejoin="round"/>
<polyline points="183.75,313 197.5,324.25" fill="none" stroke="#7d7070" stroke-width="0.9" stroke-opacity="0.8" stroke-linejoin="round"/>
<polyline points="217.5,390.5 210,383" fill="none" stroke="#7d7070" stroke-width="0.9" stroke-opacity="0.8" stroke-linejoin="round"/>
<polyline points="816,132.5 826,160 824.75,165 832.25,150" fill="none" stroke="#7d7070" stroke-width="0.9" stroke-opacity="0.8" stroke-linejoin="round"/>
<polyline points="883.5,96.25 868.5,110 856,125 846,142.5 839.75,147.5 837.25,157.5 832.25,160" fill="none" stroke="#7d7070" stroke-width="0.9" stroke-opacity="0.8" stroke-linejoin="round"/>
<polyline points="896,107.5 876,125 861,145" fill="none" stroke="#7d7070" stroke-width="0.9" stroke-opacity="0.8" stroke-linejoin="round"/>
<polyline points="831,181.25 833.5,193.75" fill="none" stroke="#7d7070" stroke-width="0.9" stroke-opacity="0.8" stroke-linejoin="round"/>
<polyline points="824.75,197.5 831,207.5 846,200 851,197.5" fill="none" stroke="#7d7070" stroke-width="0.9" stroke-opacity="0.8" stroke-linejoin="round"/>
<polyline points="856,175 858.5,190" fill="none" stroke="#7d7070" stroke-width="0.9" stroke-opacity="0.8" stroke-linejoin="round"/>
<polyline points="782.25,185 783.5,190 778.5,200" fill="none" stroke="#7d7070" stroke-width="0.9" stroke-opacity="0.8" stroke-linejoin="round"/>
<polyline points="756,191.25 753.5,185" fill="none" stroke="#7d7070" stroke-width="0.9" stroke-opacity="0.8" stroke-linejoin="round"/>
<polyline points="781,175 807.25,175" fill="none" stroke="#7d7070" stroke-width="0.9" stroke-opacity="0.8" stroke-linejoin="round"/>
<polygon fill="#fff" stroke="#421e0a" stroke-width="0.6" points="820.45,339.67 823.41,342.64 825.69,345.81 826.18,351.54 821.43,355.7 816.49,360.25 814.02,359.46 811.05,356.49 810.06,353.52 816.49,352.53 819.95,347.59 820.94,342.64"/>
<polygon fill="#fff" stroke="#421e0a" stroke-width="0.6" points="804.12,339.67 811.54,338.19 817.48,335.91 819.95,337.89 816.49,339.28 811.54,339.67 804.62,341.26"/>
<polygon fill="#fff" stroke="#421e0a" stroke-width="0.6" points="455.25,553 456.75,553 453.5,565 454,580 455.25,593.75 453.5,595 451.5,575 451.5,562.5"/>
<polygon fill="#fff" stroke="#421e0a" stroke-width="0.6" points="47.5,265.5 50.5,265.5 51,270.5 49,278 51.5,280.5 49.5,281 47,275.5"/>
<polygon fill="#fff" stroke="#421e0a" stroke-width="0.6" points="728,532 733.5,533 734,537.5 731,543 729.5,539 731,536.25"/>
<polygon fill="#fff" stroke="#421e0a" stroke-width="0.6" points="741.5,554.5 744,555 745,561.25 742.5,560"/>
</g>
<g fill="none" stroke="#421e0a" stroke-width="1.25" stroke-linejoin="round">
<polyline points="190.5,53.75 175.75,117.5"/>
<polyline points="79.5,86.25 87.5,89 92.5,99 96,105 105,107.5 115,110 130,111 147.5,112 157.5,113 175.75,117.5"/>
<polyline points="175.75,117.5 179.5,126 172.5,140 163.75,150 166,157.5 155,203"/>
<polyline points="46.25,175 109,194 155,203 200.6,214 232,219.5 245,222"/>
<polyline points="109,194 101.25,228 92.5,256.75 160,364.25"/>
<polyline points="176.25,323 175,338 170,343 162.5,345.5 160,364.25 162.5,380.5 155,388 150,398 150,408 145.75,413"/>
<polyline points="200.6,214 197.5,228 176.25,323"/>
<polyline points="176.25,323 232,331.75 260.75,336.75"/>
<polyline points="202.5,56 197.5,75 200,82.5 212.5,110 215,115 208.75,135 217.5,140 222.5,152.5 226,165 232,165 244.5,164 252,162.5 254,166"/>
<polyline points="257,157 254,166 245,222 242.5,244.25 272,250"/>
<polyline points="257,157 358.25,170"/>
<polyline points="272,250 260.75,336.75 243.25,460.5"/>
<polyline points="272,250 351.5,258 382,261"/>
<polyline points="367,82 361.5,149.5 358.25,170 354.5,215 351.5,258"/>
<polyline points="361.5,149.5 463.5,154 466,154.2"/>
<polyline points="354.5,215 384.5,217 440.75,220 455,222 463.5,223.75 470.25,228"/>
<polyline points="382,261 382,283 377,348.5"/>
<polyline points="382,283 463.5,286.75 489,285"/>
<polyline points="260.75,336.75 320,343.5 360.75,347.5 377,348.5 463.5,351.75 501.5,352.25"/>
<polyline points="360.75,347.5 359.5,359.25 410,362.25 409,403 414.5,406.75 422,411.75 432,414.25 439.5,415.5 444.5,419.25 452,420.5 457,423 463.5,420.5 474,425 489,420 504,425 512.75,428"/>
<polyline points="359.5,359.25 355.75,400 351.5,458 287.5,452.5"/>
<polyline points="470.25,228 476.5,243 480.25,260.5 482.75,273 489,283 495.25,290.5 494,295.5 500.25,303 501.5,363 504,420.5 504,425"/>
<polyline points="482.75,273 546.5,271.75 550.25,278"/>
<polyline points="472,207.5 550.25,206.25"/>
<polyline points="461.5,86.75 462.75,110 466,120 467,140 465.25,152.5 467.75,160 471.5,170 472,207.5 469.5,217.5 470.25,228"/>
<polyline points="535.25,135 531.5,142.5 530.25,150 524,158.75 526.5,170 521.5,176.25 529,182.5 539,190 547.75,200 550.25,206.25 552.75,217.5 559,227.5 561.5,228 567.75,235.5 564,248 555.25,255.5 552.75,269.25 550.25,278 554,290.5 564,303 572.75,308 571.5,321.75 581.5,330.5 587.75,343 592.75,348 591.5,355.5 586.5,360.5 584,369.25 581.5,378 576.5,390.5 571.5,403 565.25,415.5 562.75,428 562.75,438.75 566.5,450 564,462.5 559,472.5 558.5,482 590.25,481.25 591.5,490 596.5,498.75"/>
<polyline points="559,227.5 604.3,225.5"/>
<polyline points="560.25,137 579,147.5 591.5,150 599,160 600.25,167.5 601.5,170"/>
<polyline points="609.8,240.4 614,300.5 614,313 610.25,325.5"/>
<polyline points="620.8,239.3 652.6,237.1 676.8,234.3"/>
<polyline points="652.6,237.1 659,294.25"/>
<polyline points="592.75,348 596.5,343 602.75,344.25 609,335.5 610.25,326.75 619,324.25 629,323 634,324.25 636.5,319.25 644,318 650.25,308 654,303 659,295 664,294.25 671.5,299.25 679,300.5 684,303 690.25,299.25 695.5,303 696,308 701,303 702.25,294.25 707.25,290.5 711,283 719.75,275.5 721,268 721,251.75 717.5,222.2"/>
<polyline points="592.75,358 611.5,358 611.5,354.25 696,345.5 813.5,326.25"/>
<polyline points="580.25,391.75 612.75,391 656.5,386.75 679,383.5 696,382"/>
<polyline points="718.5,343 716,350.5 706,355.5 703,360 696,364.25 690,369 681.5,373 678.5,379.25 679,383.5"/>
<polyline points="612.75,391 613.25,400 616.5,480 617.75,493.75"/>
<polyline points="656.5,386.75 660.25,400 671.5,430 675.25,445 676.5,473.75"/>
<polyline points="616.5,480 626.5,472.5 630.25,477.5 676.5,473.75 680.25,478.75 696,478 729.75,475 729.75,480 733.5,479.5 733.5,470 743,471.25"/>
<polyline points="630.25,477.5 635.25,491.25"/>
<polyline points="696,382 706,394.25 716,406.75 726,413.5 734.5,425 741.5,436.5 747.25,440"/>
<polyline points="696,382 701,379.25 711,375.5 727.25,373 733.5,373 738.5,378 758.5,375.5 781,393"/>
<polyline points="512.75,428 512.75,440 514,455 517.75,467.5 522.75,482.5 521.5,500 517.75,512.5"/>
<polyline points="512.75,439.25 562.75,438.75"/>
<polyline points="501.5,363 574,360.5 576.5,370.5 584,369.25"/>
<polyline points="721,251.75 722,260 724.75,270.5 799.75,256.75 800.8,255.8 802.5,253.6 805.2,253.2"/>
<polyline points="743.5,268 743.5,278 749.75,271.75 756,268 762.25,265.5 768.5,269.25 776,274.25 784.75,279.25 782.25,288 788.5,291.75 794.75,294.25 799.75,296.75 803.5,300.5"/>
<polyline points="708.5,323 716,328 726,325.5 736,320.5 743.5,300.5 753.5,288 758.5,280.5 761,273 771,270.5 778.5,275.5 784.75,279.25"/>
<polyline points="696,308 701,315.5 708.5,323 696,338 689,346"/>
<polyline points="800.8,255.8 806.9,283.1 818.4,280.9"/>
<polyline points="808.7,292.8 816.6,290.1"/>
<polyline points="806,217.5 803.5,222 806,228 812.25,243 805.2,253.2"/>
<polyline points="728.5,213.75 729.75,218.75 796,206.25 803.5,212.5 806,217.5 823.5,223.75"/>
<polyline points="809.75,133.75 812.25,147.5 816,162.5 818.5,167.5 823.5,180 824.75,197.5 826,217.5 826,221"/>
<polyline points="834.75,127.5 836,140 832.25,150 832.25,160 833.5,178.75"/>
<polyline points="841,120 856,166.25 858,170"/>
<polyline points="822.25,180 833.5,178.75 856,173.75 859,171"/>
<polyline points="823.5,196.25 849.75,191.25 858,190"/>
<polyline points="849.75,191.25 852.25,203.75"/>
<path d="M113.75 32.5 L150 43.5 L190.5 53.75 L202.5 56 L232 62 L282 72.5 L323 78.75 L367 82 L407 85 L429.5 86.25 L461.5 86.75 L489 87.5 L489 78.75 L494 78.75 L496.5 92.5 L509 95 L519 94.5 L529 101 L539 102.5 L549 102 L559 105 L568.5 106.25 L559 112.5 L546.5 122.5 L535.25 135 L541.5 132.5 L550.25 130 L554 128 L557 128 L557.75 132.5 L555.25 136.25 L560.25 137 L569 132.5 L579 125 L586.5 118.75 L591.5 115.5 L595.25 115.5 L592.75 120 L589 123.75 L586.5 130 L594 127.5 L600.25 132.5 L606.5 136.25 L614 133.75 L624 130 L635.25 127.5 L636.5 132.5 L647.75 130 L650.25 137.5 L657.75 138.75 L658.5 142.5 L649 142.5 L644 143.75 L639 145 L641.41 143.18 L634.82 142.52 L628.23 143.18 L620.32 146.48 L615.05 149.77 L611.09 149.11 L609.11 151.75 L605.82 156.36 L603.18 162.96 L601.2 168.23 L597.91 174.82 L596.59 180.09 L598.57 179.43 L601.86 173.5 L604.76 167.57 L607.14 162.3 L609.77 157.02 L612.41 151.75 L611.75 159 L608.46 168.23 L605.82 177.46 L603.84 186.68 L602.52 198.55 L602.13 211.73 L603.18 222.28 L605.82 232.82 L609.77 240.73 L613.73 243.37 L619 240.73 L623.61 234.14 L626.25 224.91 L626.91 215.68 L624.93 206.46 L621.64 195.91 L620.98 185.37 L622.96 174.82 L623.61 168.23 L626.25 162.96 L628.89 166.25 L630.86 160.32 L633.5 168.23 L634.82 161.64 L636.14 157.02 L639.83 156.36 L640.75 151.09 L639.04 148.46 L642.73 143.84 L649.32 148.46 L648.35 150.66 L657.14 153.96 L662.64 156.7 L665.71 161.65 L666.48 169.34 L666.26 177.03 L664.29 181.98 L660.44 186.37 L659.89 190.77 L662.86 192.97 L665.93 189.12 L669.23 184.73 L674.18 181.98 L677.47 184.18 L680.22 191.32 L683.52 201.21 L685.16 210 L683.41 212.31 L679.01 218.9 L676.81 225.49 L674.62 232.09 L676.81 234.29 L682.31 234.29 L686.7 238.68 L693.3 237.58 L699.89 234.29 L706.48 227.69 L717.47 222.2 L726.26 216.7 L735.05 206.81 L739.45 201.32 L735.05 194.73 L735.05 189.23 L743.85 185.93 L757.03 184.84 L768.02 180.44 L774.62 174.95 L773.52 167.25 L772.42 160.66 L776.81 155.16 L782.31 146.37 L782.25 145 L787.25 138.75 L809.75 133.75 L834.75 127.5 L838.5 120 L843.5 115 L846 105 L846 92.5 L848.5 75 L852.25 65.5 L856 70 L866 63.75 L874.75 67 L883.5 96.25 L889.75 97.5 L891 102.5 L901 111.25 L896 117.5 L888.5 125 L881 132.5 L873.5 140 L866 146.25 L859.75 152.5 L857.25 162.5 L859.75 172.5 L858.5 180 L862.25 178.75 L861 187.5 L868.5 191.25 L876 192.5 L878.5 187.5 L874.75 183.75 L879.75 186.25 L881 197.5 L871 200 L866 197.5 L861 200 L857.25 202.5 L846 207.5 L836 215 L826 221.25 L823.5 225 L823.5 228 L825.4 240 L825.8 248.8 L822.8 257.6 L819.3 263.7 L817.5 270 L814 265.5 L807.8 262 L805.5 258 L805.2 261.1 L808.7 265.5 L812.2 271.7 L815.7 275.2 L817.9 278.7 L818.4 284 L816.6 291 L814.2 296.3 L813.8 303.3 L812.8 311 L811 317 L810 317 L811.3 310.3 L810.1 298 L806.9 292.7 L803.4 288.5 L799.9 284 L797.3 277.8 L796.4 270.8 L798.1 262.9 L797.3 261.1 L792.9 269 L792 275.2 L793.7 281.3 L797.3 287.5 L799.9 292.8 L801.7 299.8 L803.4 306.8 L804.3 313 L805.2 317.4 L809.6 316.9 L813.5 324.8 L817.5 331.8 L821.4 338.7 L825.4 343.6 L826.9 352.5 L821.4 356.5 L816.5 361.4 L812.5 369.3 L809.6 368.4 L804.6 370.3 L798.7 374.3 L793.7 381.2 L791.3 391.1 L786.8 390.1 L780.9 392.1 L775.9 399 L773.5 403 L766 415.5 L756 425.5 L749.75 433 L747.25 443 L743.5 450 L742.25 462.5 L743 471.25 L746 482.5 L752.25 497.5 L761 510 L767.25 517.5 L771 530 L778.5 543.75 L783.5 555 L784.75 572.5 L782.25 582.5 L776 588.75 L769.75 590 L763.5 580 L756 575 L749.75 565 L743.5 562.5 L741 553.75 L733.5 542.5 L727.25 532.5 L726 517.5 L723.5 510 L718.5 508.75 L711 500 L703.5 490 L696 491.25 L695.5 492.5 L689 497.5 L681.5 502.5 L675.25 501.25 L669 493.75 L659 487.5 L644 488.75 L634 492.5 L625.25 493.75 L624 486.25 L622 486.25 L622.75 493.75 L609 493.75 L599 496.25 L594 502.5 L600.25 505 L596.5 510 L604 517.5 L606.5 522.5 L601.5 522.5 L594 516.25 L589 520 L579 523.75 L569 522.5 L562.75 517.5 L554 513.75 L544 512.5 L529 511.25 L517.75 512.5 L506.5 515 L496.5 520 L486.5 530 L474 540 L464 547.5 L463.5 543.75 L455.75 552.5 L449.5 562.5 L452 575 L454.5 592.5 L452 597.5 L444.5 596.25 L429.5 590 L418.25 585 L412 572.5 L409.5 560 L399.5 542.5 L392 526.25 L382 515 L372 508 L359.5 507.5 L352 512.5 L342 523.75 L329.5 512.5 L319.5 502.5 L317 490 L307 477.5 L297 465 L287.5 452.5 L259 453.75 L258.25 462 L243.25 460.5 L232 458.75 L170 430.5 L145.75 413 L106.25 406.75 L105 400.5 L101.25 388 L96.25 378 L90 373 L82.5 366.75 L75 358 L65 353 L57 348 L60 339.25 L57.5 333 L53.75 323 L50 310.5 L46.25 303 L50 293 L46.25 283 L45 270.5 L41.25 264.25 L40 255.5 L35 243 L35 228 L33.75 215 L35 205 L42.5 190 L46.25 175 L47.5 165 L53.75 150 L62.5 130 L72.5 107.5 L79.5 86.25 L83 70 L82 50 L83.75 37.5 L84.07 37.58 L93.74 46.37 L103.41 49.01 L108.68 51.65 L111.32 46.37 L113.08 37.58 L113.69 33.01Z M826 223.25 L836 218 L846 213.75 L854 211.5 L849.75 215 L838.5 221.25 L828.5 226.25Z"/>
</g>
<polyline points="113.08,33.19 114.4,37.58 112.2,41.98 113.96,46.37 111.32,49.89 113.08,53.41 110,56.92 110.88,61.32 108.68,65.71 109.12,70.11 107.36,71.43" fill="none" stroke="#421e0a" stroke-width="2.2" stroke-linejoin="round"/>
<polyline points="106.04,37.58 108.68,38.9 107.8,42.86 110,41.1" fill="none" stroke="#421e0a" stroke-width="2.2" stroke-linejoin="round"/>
<polyline points="796.21,313.46 799.67,315.93 802.64,318.9" fill="none" stroke="#421e0a" stroke-width="2.2" stroke-linejoin="round"/>
<polygon points="573.5,108 577.75,104.5 583.5,100 584.5,101 579,106 574.5,109.5" fill="#421e0a"/>
<polygon points="56.25,360 62.5,361.75 73,364.25 72.5,366 62.5,364.25 56.5,361.75" fill="#421e0a"/>
<polygon points="65.5,380 68,380.5 67.5,383 65.5,382" fill="#421e0a"/>
<polygon points="84.5,381 87.5,382.5 88,385.5 85.5,384.25" fill="#421e0a"/>
<polygon points="82,390 84.5,391 85,396 82.5,394.25" fill="#421e0a"/>
<polygon points="868.5,197.5 872.25,196.5 874,198.75 870.5,200" fill="#421e0a"/>
<polygon points="877.25,198 881,197.5 880.5,200 877.5,200" fill="#421e0a"/>
<polygon points="893,122.5 895.4,121.3 896,123.1 893.8,124.3" fill="#421e0a"/>
<polygon points="887,128 889.4,126.8 890,128.6 887.8,129.8" fill="#421e0a"/>
<polygon points="881.5,134 883.9,132.8 884.5,134.6 882.3,135.8" fill="#421e0a"/>
<polygon points="876,139.5 878.4,138.3 879,140.1 876.8,141.3" fill="#421e0a"/>
<polygon points="870,145.5 872.4,144.3 873,146.1 870.8,147.3" fill="#421e0a"/>
<polygon points="864.5,151.5 866.9,150.3 867.5,152.1 865.3,153.3" fill="#421e0a"/>
<polygon points="860.5,158 862.9,156.8 863.5,158.6 861.3,159.8" fill="#421e0a"/>
<polyline points="784.75,580 783.5,586.25 780.5,593 775.5,597.5 769.75,600.75 763.5,602.5 757.25,604.5" fill="none" stroke="#421e0a" stroke-width="1.2" stroke-dasharray="7 2 3 2"/>
<defs><clipPath id="ak"><path d="M220.06 503.9 L223.85 501.37 L233.96 505.16 L246.59 502.64 L259.23 506.43 L268.08 508.96 L269.34 514.01 L276.92 519.07 L280.72 525.38 L289.56 534.23 L299.67 543.08 L305.99 546.87 L309.78 554.45 L266.06 637.61 L273.64 640.89 L269.85 643.67 L273.13 646.45 L275.91 655.04 L282.99 654.03 L287.79 653.53 L289.06 656.31 L290.57 663.89 L292.34 672.74 L293.35 685.88 L296.13 692.45 L299.42 699.02 L297.14 704.58 L291.84 710.14 L288.55 706.86 L282.99 706.86 L279.2 703.57 L278.69 697 L277.43 688.15 L274.65 678.3 L275.91 667.18 L274.65 661.87 L270.86 653.02 L267.57 646.45 L263.28 640.89 L258.73 635.33 L251.65 627.75 L247.86 620.17 L244.07 613.85 L245.33 618.9 L241.54 622.69 L236.48 623.45 L231.43 617.64 L226.37 618.4 L215 616.37 L218.79 611.32 L226.37 606.77 L232.69 605 L237.75 606.26 L228.9 604.24 L221.32 608.79 L211.21 608.79 L206.15 611.32 L201.1 615.11 L193.52 616.37 L180.88 618.9 L170.77 617.64 L158.13 616.37 L163.19 613.85 L175.82 612.58 L185.93 607.53 L190.99 603.74 L185.93 602.47 L180.88 601.21 L179.62 596.15 L175.82 591.1 L170.77 589.84 L173.3 584.78 L178.35 578.46 L170.77 575.93 L169.51 568.35 L173.3 560.77 L175.82 553.19 L185.93 549.4 L193.52 549.4 L201.1 553.19 L208.68 550.66 L212.47 545.6 L206.15 543.08 L203.63 538.02 L196.04 530.44 L197.31 520.33 L206.15 521.59 L213.74 524.12 L218.79 529.18 L222.58 534.23 L226.37 535.49 L225.11 527.91 L221.32 520.33 L220.81 510.22Z"/></clipPath></defs>
<g clip-path="url(#ak)">
<polygon fill="#7A0A0C" points="220.06,503.9 223.85,501.37 233.96,505.16 246.59,502.64 259.23,506.43 268.08,508.96 269.34,514.01 276.92,519.07 280.72,525.38 289.56,534.23 299.67,543.08 305.99,546.87 309.78,554.45 266.06,637.61 273.64,640.89 269.85,643.67 273.13,646.45 275.91,655.04 282.99,654.03 287.79,653.53 289.06,656.31 290.57,663.89 292.34,672.74 293.35,685.88 296.13,692.45 299.42,699.02 297.14,704.58 291.84,710.14 288.55,706.86 282.99,706.86 279.2,703.57 278.69,697 277.43,688.15 274.65,678.3 275.91,667.18 274.65,661.87 270.86,653.02 267.57,646.45 263.28,640.89 258.73,635.33 251.65,627.75 247.86,620.17 244.07,613.85 245.33,618.9 241.54,622.69 236.48,623.45 231.43,617.64 226.37,618.4 215,616.37 218.79,611.32 226.37,606.77 232.69,605 237.75,606.26 228.9,604.24 221.32,608.79 211.21,608.79 206.15,611.32 201.1,615.11 193.52,616.37 180.88,618.9 170.77,617.64 158.13,616.37 163.19,613.85 175.82,612.58 185.93,607.53 190.99,603.74 185.93,602.47 180.88,601.21 179.62,596.15 175.82,591.1 170.77,589.84 173.3,584.78 178.35,578.46 170.77,575.93 169.51,568.35 173.3,560.77 175.82,553.19 185.93,549.4 193.52,549.4 201.1,553.19 208.68,550.66 212.47,545.6 206.15,543.08 203.63,538.02 196.04,530.44 197.31,520.33 206.15,521.59 213.74,524.12 218.79,529.18 222.58,534.23 226.37,535.49 225.11,527.91 221.32,520.33 220.81,510.22"/>
<polygon fill="#5A0608" points="220.06,503.9 223.85,501.37 233.96,505.16 246.59,502.64 259.23,506.43 268.08,508.96 269.34,514.01 276.92,519.07 280.72,525.38 289.56,534.23 299.67,543.08 305.99,546.87 309.78,554.45 279.45,551.92 261.76,546.87 251.65,540.55 244.07,532.97 239.01,522.86 231.43,514.01 223.85,507.69"/>
<polygon fill="#BE292D" points="279.45,551.92 309.78,554.45 287.03,596.15 281.98,587.31 274.4,580.99 261.76,575.93 255.44,565.82 261.76,562.03 274.4,556.98"/>
<polygon fill="#E84242" points="261.76,575.93 274.4,580.99 281.98,587.31 287.03,596.15 266.06,637.61 273.64,640.89 269.85,643.67 273.13,646.45 275.91,655.04 282.99,654.03 287.79,653.53 289.06,656.31 290.57,663.89 292.34,672.74 293.35,685.88 296.13,692.45 299.42,699.02 297.14,704.58 291.84,710.14 288.55,706.86 282.99,706.86 279.2,703.57 278.69,697 277.43,688.15 274.65,678.3 275.91,667.18 274.65,661.87 270.86,653.02 267.57,646.45 263.28,640.89 258.73,635.33 251.65,627.75 247.86,620.17 244.07,611.32 242.8,587.31 251.65,582.25"/>
<polygon fill="#BE292D" points="226.37,589.84 241.54,587.31 242.8,587.31 244.07,611.32 245.33,618.9 241.54,622.69 236.48,623.45 231.43,617.64 226.37,618.4 215,616.37 218.79,611.32 226.37,606.77 232.69,605 228.9,604.24 221.32,608.79 211.21,608.79 221.32,601.21"/>
<polygon fill="#A32428" points="173.3,589.84 201.1,582.25 203.63,583.52 208.68,591.1 216.26,593.63 226.37,589.84 221.32,601.21 211.21,608.79 206.15,611.32 201.1,615.11 193.52,616.37 180.88,618.9 170.77,617.64 158.13,616.37 163.19,613.85 175.82,612.58 185.93,607.53 190.99,603.74 185.93,602.47 180.88,601.21 179.62,596.15 175.82,591.1"/>
<polygon fill="#F0A09E" points="284,664.4 290.57,663.89 292.34,672.74 293.35,685.88 289.56,687.14 286.53,677.03"/>
<polygon fill="#FBDEDD" points="282.99,654.29 287.79,653.78 288.8,664.4 284.51,664.4"/>
<polygon fill="#EE7673" points="276.92,666.92 284,664.4 286.53,677.03 289.56,687.14 287.03,704.84 279.96,703.57 278.19,692.2 274.9,678.3"/>
</g>
<g fill="none" stroke="#8a6060" stroke-width="0.7">
<polyline points="237.75,544.34 223.85,548.13 213.74,553.19 206.15,562.03 201.1,570.88 201.1,582.25 203.63,583.52 208.68,591.1 216.26,593.63 226.37,589.84 241.54,587.31 251.65,582.25 261.76,575.93 255.44,565.82 261.76,562.03 274.4,556.98 279.45,551.92"/>
<polyline points="237.75,544.34 241.54,534.23 239.01,522.86"/>
<polyline points="173.3,589.84 201.1,582.25"/>
<polyline points="242.8,587.31 244.07,611.32"/>
<polyline points="261.76,575.93 274.4,580.99 281.98,587.31 287.03,596.15"/>
</g>
<path d="M220.06 503.9 L223.85 501.37 L233.96 505.16 L246.59 502.64 L259.23 506.43 L268.08 508.96 L269.34 514.01 L276.92 519.07 L280.72 525.38 L289.56 534.23 L299.67 543.08 L305.99 546.87 L309.78 554.45 L266.06 637.61 L273.64 640.89 L269.85 643.67 L273.13 646.45 L275.91 655.04 L282.99 654.03 L287.79 653.53 L289.06 656.31 L290.57 663.89 L292.34 672.74 L293.35 685.88 L296.13 692.45 L299.42 699.02 L297.14 704.58 L291.84 710.14 L288.55 706.86 L282.99 706.86 L279.2 703.57 L278.69 697 L277.43 688.15 L274.65 678.3 L275.91 667.18 L274.65 661.87 L270.86 653.02 L267.57 646.45 L263.28 640.89 L258.73 635.33 L251.65 627.75 L247.86 620.17 L244.07 613.85 L245.33 618.9 L241.54 622.69 L236.48 623.45 L231.43 617.64 L226.37 618.4 L215 616.37 L218.79 611.32 L226.37 606.77 L232.69 605 L237.75 606.26 L228.9 604.24 L221.32 608.79 L211.21 608.79 L206.15 611.32 L201.1 615.11 L193.52 616.37 L180.88 618.9 L170.77 617.64 L158.13 616.37 L163.19 613.85 L175.82 612.58 L185.93 607.53 L190.99 603.74 L185.93 602.47 L180.88 601.21 L179.62 596.15 L175.82 591.1 L170.77 589.84 L173.3 584.78 L178.35 578.46 L170.77 575.93 L169.51 568.35 L173.3 560.77 L175.82 553.19 L185.93 549.4 L193.52 549.4 L201.1 553.19 L208.68 550.66 L212.47 545.6 L206.15 543.08 L203.63 538.02 L196.04 530.44 L197.31 520.33 L206.15 521.59 L213.74 524.12 L218.79 529.18 L222.58 534.23 L226.37 535.49 L225.11 527.91 L221.32 520.33 L220.81 510.22Z" fill="none" stroke="#421e0a" stroke-width="0.8"/>
<polygon fill="#EE7673" stroke="#421e0a" stroke-width="0.9" points="158.64,616.37 151.81,615.62 142.97,613.34 135.38,611.82 129.82,609.8 130.84,608.29 137.91,609.3 146.76,611.32 154.34,612.84 160.66,613.85"/>
<polyline points="276.92,668.19 279.96,674.51 277.43,682.09 280.97,689.67 278.95,697.25 282.48,704.84" fill="none" stroke="#421e0a" stroke-width="1.1" stroke-opacity="0.85"/>
<polyline points="282.48,666.92 280.97,673.24 284.51,679.56 282.48,687.14 286.02,693.46 284,701.05 288.3,706.1" fill="none" stroke="#421e0a" stroke-width="1.1" stroke-opacity="0.85"/>
<polyline points="286.53,668.19 288.04,677.03 286.53,684.62 289.56,692.2" fill="none" stroke="#421e0a" stroke-width="1.1" stroke-opacity="0.85"/>
<polyline points="275.91,678.3 278.44,684.62 276.92,692.2" fill="none" stroke="#421e0a" stroke-width="1.1" stroke-opacity="0.85"/>
<polygon fill="#A32428" stroke="#421e0a" stroke-width="0.7" points="189.73,627.75 193.52,623.96 201.1,622.69 207.42,620.92 206.66,625.98 199.84,629.01 193.52,630.78"/>
<polygon fill="#7A0A0C" stroke="#421e0a" stroke-width="0.7" points="168.24,521.59 172.03,520.33 174.56,527.91 177.09,532.97 173.3,533.47 170.77,526.65"/>
<polygon fill="#7A0A0C" stroke="#421e0a" stroke-width="0.7" points="159.4,560.77 163.19,559.51 166.22,565.82 163.19,568.35 160.15,564.56"/>
<polygon fill="#7A0A0C" stroke="#421e0a" stroke-width="0.7" points="142.97,536.76 144.48,536.76 144.99,541.81 143.47,541.31"/>
<polyline points="36.7,521.98 35.82,528.13 44.62,549.23 46.37,559.78 51.65,570.33 60.44,573.85 65.71,579.12 76.26,587.03 79.78,592.31 90.33,597.58 97.36,601.1 104.4,604.62 111.43,607.25 118.46,608.66 125.49,610.42 132.53,610.77 143.08,613.41 153.63,614.64 160.66,616.4 171.21,615.69 180,614.64" fill="none" stroke="#421e0a" stroke-width="2" stroke-dasharray="3 4 5 2 2 5 6 3"/>
<g>
<rect x="134" y="797" width="42.5" height="19" fill="#2B2D7F"/>
<rect x="176" y="797" width="42.5" height="19" fill="#3A3893"/>
<rect x="218" y="797" width="42.5" height="19" fill="#224B9F"/>
<rect x="260" y="797" width="42.5" height="19" fill="#6775BA"/>
<rect x="302" y="797" width="42.5" height="19" fill="#8F9ACD"/>
<rect x="344" y="797" width="42.5" height="19" fill="#B3B9DE"/>
<rect x="386" y="797" width="42.5" height="19" fill="#D5D7EC"/>
<rect x="428" y="797" width="42.5" height="19" fill="#F6D9D7"/>
<rect x="470" y="797" width="42.5" height="19" fill="#F4C3C0"/>
<rect x="512" y="797" width="42.5" height="19" fill="#F0A09E"/>
<rect x="554" y="797" width="42.5" height="19" fill="#EE7673"/>
<rect x="596" y="797" width="42.5" height="19" fill="#E84242"/>
<rect x="638" y="797" width="42.5" height="19" fill="#BE292D"/>
<rect x="680" y="797" width="42.5" height="19" fill="#A32428"/>
<rect x="722" y="797" width="42.5" height="19" fill="#7A0A0C"/>
<rect x="764" y="797" width="42.5" height="19" fill="#5A0608"/>
<rect x="423.5" y="797" width="7.5" height="19" fill="#C9C9C9"/>
<rect x="134" y="796.5" width="672" height="20" fill="none" stroke="#1b2f5c" stroke-width="2"/>
<rect x="133" y="816" width="2" height="8" fill="#1b2f5c"/>
<rect x="175" y="816" width="2" height="8" fill="#1b2f5c"/>
<rect x="217" y="816" width="2" height="8" fill="#1b2f5c"/>
<rect x="259" y="816" width="2" height="8" fill="#1b2f5c"/>
<rect x="301" y="816" width="2" height="8" fill="#1b2f5c"/>
<rect x="343" y="816" width="2" height="8" fill="#1b2f5c"/>
<rect x="385" y="816" width="2" height="8" fill="#1b2f5c"/>
<rect x="427" y="816" width="2" height="8" fill="#1b2f5c"/>
<rect x="469" y="816" width="2" height="8" fill="#1b2f5c"/>
<rect x="511" y="816" width="2" height="8" fill="#1b2f5c"/>
<rect x="553" y="816" width="2" height="8" fill="#1b2f5c"/>
<rect x="595" y="816" width="2" height="8" fill="#1b2f5c"/>
<rect x="637" y="816" width="2" height="8" fill="#1b2f5c"/>
<rect x="679" y="816" width="2" height="8" fill="#1b2f5c"/>
<rect x="721" y="816" width="2" height="8" fill="#1b2f5c"/>
<rect x="763" y="816" width="2" height="8" fill="#1b2f5c"/>
<rect x="805" y="816" width="2" height="8" fill="#1b2f5c"/>
</g>
<text x="131" y="846.5" font-size="16.8" text-anchor="middle" textLength="30.6" lengthAdjust="spacingAndGlyphs">-3.5</text>
<text x="174.75" y="846.5" font-size="16.8" text-anchor="middle" textLength="15.1" lengthAdjust="spacingAndGlyphs">-3</text>
<text x="259.5" y="846.5" font-size="16.8" text-anchor="middle" textLength="15.1" lengthAdjust="spacingAndGlyphs">-2</text>
<text x="343.5" y="846.5" font-size="16.8" text-anchor="middle" textLength="14.6" lengthAdjust="spacingAndGlyphs">-1</text>
<text x="427.8" y="846.5" font-size="16.8" text-anchor="middle" textLength="9.2" lengthAdjust="spacingAndGlyphs">0</text>
<text x="511.2" y="846.5" font-size="16.8" text-anchor="middle" textLength="7.5" lengthAdjust="spacingAndGlyphs">1</text>
<text x="595.8" y="846.5" font-size="16.8" text-anchor="middle" textLength="9" lengthAdjust="spacingAndGlyphs">2</text>
<text x="679.5" y="846.5" font-size="16.8" text-anchor="middle" textLength="9" lengthAdjust="spacingAndGlyphs">3</text>
<text x="764.2" y="846.5" font-size="16.8" text-anchor="middle" textLength="9.4" lengthAdjust="spacingAndGlyphs">4</text>
<text x="806.9" y="846.5" font-size="16.8" text-anchor="middle" textLength="25" lengthAdjust="spacingAndGlyphs">4.5</text>
<text x="465.5" y="777.6" font-size="22" text-anchor="middle" textLength="495" lengthAdjust="spacingAndGlyphs">Rate of temperature change (°F per century):</text>
<text x="465.5" y="882" font-size="16" text-anchor="middle" textLength="217" lengthAdjust="spacingAndGlyphs">Gray interval: -0.1 to 0.1°F</text>
</svg></body></html>
